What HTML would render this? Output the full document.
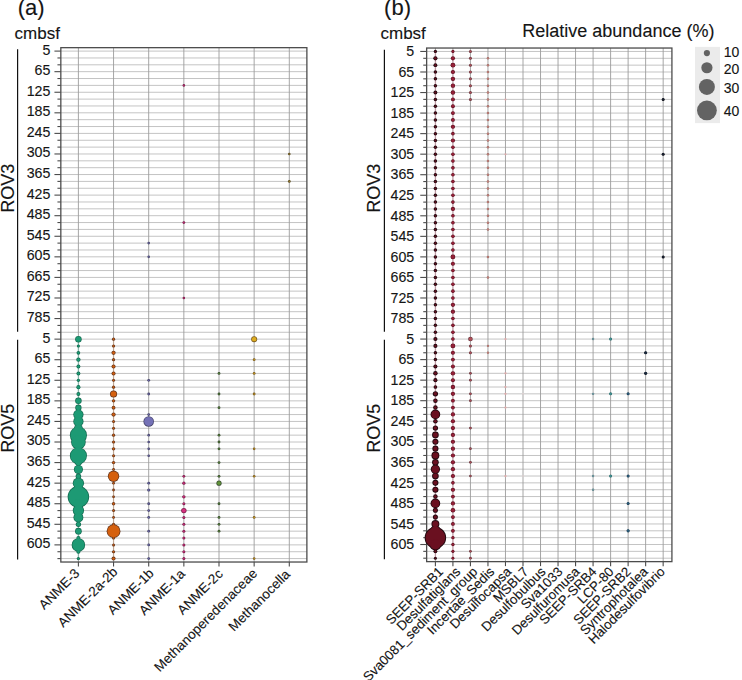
<!DOCTYPE html><html><head><meta charset="utf-8"><style>html,body{margin:0;padding:0;background:#fff;}svg{display:block;}text{font-family:"Liberation Sans",sans-serif;fill:#151515;stroke:#151515;stroke-width:0.12px;}</style></head><body>
<svg width="742" height="680" viewBox="0 0 742 680">
<rect width="742" height="680" fill="#fff"/>
<text x="17.8" y="15" font-size="22">(a)</text>
<text x="384.1" y="15" font-size="22">(b)</text>
<text x="14.6" y="38.6" font-size="17">cmbsf</text>
<text x="380.5" y="38.6" font-size="17">cmbsf</text>
<text x="522.3" y="36.8" font-size="18">Relative abundance (%)</text>
<line x1="60.83" y1="51.10" x2="306.88" y2="51.10" stroke="#c4c4c4" stroke-width="1"/>
<line x1="60.83" y1="57.96" x2="306.88" y2="57.96" stroke="#c4c4c4" stroke-width="1"/>
<line x1="60.83" y1="64.82" x2="306.88" y2="64.82" stroke="#c4c4c4" stroke-width="1"/>
<line x1="60.83" y1="71.67" x2="306.88" y2="71.67" stroke="#c4c4c4" stroke-width="1"/>
<line x1="60.83" y1="78.53" x2="306.88" y2="78.53" stroke="#c4c4c4" stroke-width="1"/>
<line x1="60.83" y1="85.39" x2="306.88" y2="85.39" stroke="#c4c4c4" stroke-width="1"/>
<line x1="60.83" y1="92.25" x2="306.88" y2="92.25" stroke="#c4c4c4" stroke-width="1"/>
<line x1="60.83" y1="99.11" x2="306.88" y2="99.11" stroke="#c4c4c4" stroke-width="1"/>
<line x1="60.83" y1="105.96" x2="306.88" y2="105.96" stroke="#c4c4c4" stroke-width="1"/>
<line x1="60.83" y1="112.82" x2="306.88" y2="112.82" stroke="#c4c4c4" stroke-width="1"/>
<line x1="60.83" y1="119.68" x2="306.88" y2="119.68" stroke="#c4c4c4" stroke-width="1"/>
<line x1="60.83" y1="126.54" x2="306.88" y2="126.54" stroke="#c4c4c4" stroke-width="1"/>
<line x1="60.83" y1="133.40" x2="306.88" y2="133.40" stroke="#c4c4c4" stroke-width="1"/>
<line x1="60.83" y1="140.25" x2="306.88" y2="140.25" stroke="#c4c4c4" stroke-width="1"/>
<line x1="60.83" y1="147.11" x2="306.88" y2="147.11" stroke="#c4c4c4" stroke-width="1"/>
<line x1="60.83" y1="153.97" x2="306.88" y2="153.97" stroke="#c4c4c4" stroke-width="1"/>
<line x1="60.83" y1="160.83" x2="306.88" y2="160.83" stroke="#c4c4c4" stroke-width="1"/>
<line x1="60.83" y1="167.69" x2="306.88" y2="167.69" stroke="#c4c4c4" stroke-width="1"/>
<line x1="60.83" y1="174.54" x2="306.88" y2="174.54" stroke="#c4c4c4" stroke-width="1"/>
<line x1="60.83" y1="181.40" x2="306.88" y2="181.40" stroke="#c4c4c4" stroke-width="1"/>
<line x1="60.83" y1="188.26" x2="306.88" y2="188.26" stroke="#c4c4c4" stroke-width="1"/>
<line x1="60.83" y1="195.12" x2="306.88" y2="195.12" stroke="#c4c4c4" stroke-width="1"/>
<line x1="60.83" y1="201.98" x2="306.88" y2="201.98" stroke="#c4c4c4" stroke-width="1"/>
<line x1="60.83" y1="208.83" x2="306.88" y2="208.83" stroke="#c4c4c4" stroke-width="1"/>
<line x1="60.83" y1="215.69" x2="306.88" y2="215.69" stroke="#c4c4c4" stroke-width="1"/>
<line x1="60.83" y1="222.55" x2="306.88" y2="222.55" stroke="#c4c4c4" stroke-width="1"/>
<line x1="60.83" y1="229.41" x2="306.88" y2="229.41" stroke="#c4c4c4" stroke-width="1"/>
<line x1="60.83" y1="236.27" x2="306.88" y2="236.27" stroke="#c4c4c4" stroke-width="1"/>
<line x1="60.83" y1="243.12" x2="306.88" y2="243.12" stroke="#c4c4c4" stroke-width="1"/>
<line x1="60.83" y1="249.98" x2="306.88" y2="249.98" stroke="#c4c4c4" stroke-width="1"/>
<line x1="60.83" y1="256.84" x2="306.88" y2="256.84" stroke="#c4c4c4" stroke-width="1"/>
<line x1="60.83" y1="263.70" x2="306.88" y2="263.70" stroke="#c4c4c4" stroke-width="1"/>
<line x1="60.83" y1="270.56" x2="306.88" y2="270.56" stroke="#c4c4c4" stroke-width="1"/>
<line x1="60.83" y1="277.41" x2="306.88" y2="277.41" stroke="#c4c4c4" stroke-width="1"/>
<line x1="60.83" y1="284.27" x2="306.88" y2="284.27" stroke="#c4c4c4" stroke-width="1"/>
<line x1="60.83" y1="291.13" x2="306.88" y2="291.13" stroke="#c4c4c4" stroke-width="1"/>
<line x1="60.83" y1="297.99" x2="306.88" y2="297.99" stroke="#c4c4c4" stroke-width="1"/>
<line x1="60.83" y1="304.85" x2="306.88" y2="304.85" stroke="#c4c4c4" stroke-width="1"/>
<line x1="60.83" y1="311.70" x2="306.88" y2="311.70" stroke="#c4c4c4" stroke-width="1"/>
<line x1="60.83" y1="318.56" x2="306.88" y2="318.56" stroke="#c4c4c4" stroke-width="1"/>
<line x1="60.83" y1="325.42" x2="306.88" y2="325.42" stroke="#c4c4c4" stroke-width="1"/>
<line x1="60.83" y1="332.28" x2="306.88" y2="332.28" stroke="#c4c4c4" stroke-width="1"/>
<line x1="60.83" y1="339.14" x2="306.88" y2="339.14" stroke="#c4c4c4" stroke-width="1"/>
<line x1="60.83" y1="345.99" x2="306.88" y2="345.99" stroke="#c4c4c4" stroke-width="1"/>
<line x1="60.83" y1="352.85" x2="306.88" y2="352.85" stroke="#c4c4c4" stroke-width="1"/>
<line x1="60.83" y1="359.71" x2="306.88" y2="359.71" stroke="#c4c4c4" stroke-width="1"/>
<line x1="60.83" y1="366.57" x2="306.88" y2="366.57" stroke="#c4c4c4" stroke-width="1"/>
<line x1="60.83" y1="373.43" x2="306.88" y2="373.43" stroke="#c4c4c4" stroke-width="1"/>
<line x1="60.83" y1="380.28" x2="306.88" y2="380.28" stroke="#c4c4c4" stroke-width="1"/>
<line x1="60.83" y1="387.14" x2="306.88" y2="387.14" stroke="#c4c4c4" stroke-width="1"/>
<line x1="60.83" y1="394.00" x2="306.88" y2="394.00" stroke="#c4c4c4" stroke-width="1"/>
<line x1="60.83" y1="400.86" x2="306.88" y2="400.86" stroke="#c4c4c4" stroke-width="1"/>
<line x1="60.83" y1="407.72" x2="306.88" y2="407.72" stroke="#c4c4c4" stroke-width="1"/>
<line x1="60.83" y1="414.57" x2="306.88" y2="414.57" stroke="#c4c4c4" stroke-width="1"/>
<line x1="60.83" y1="421.43" x2="306.88" y2="421.43" stroke="#c4c4c4" stroke-width="1"/>
<line x1="60.83" y1="428.29" x2="306.88" y2="428.29" stroke="#c4c4c4" stroke-width="1"/>
<line x1="60.83" y1="435.15" x2="306.88" y2="435.15" stroke="#c4c4c4" stroke-width="1"/>
<line x1="60.83" y1="442.01" x2="306.88" y2="442.01" stroke="#c4c4c4" stroke-width="1"/>
<line x1="60.83" y1="448.86" x2="306.88" y2="448.86" stroke="#c4c4c4" stroke-width="1"/>
<line x1="60.83" y1="455.72" x2="306.88" y2="455.72" stroke="#c4c4c4" stroke-width="1"/>
<line x1="60.83" y1="462.58" x2="306.88" y2="462.58" stroke="#c4c4c4" stroke-width="1"/>
<line x1="60.83" y1="469.44" x2="306.88" y2="469.44" stroke="#c4c4c4" stroke-width="1"/>
<line x1="60.83" y1="476.30" x2="306.88" y2="476.30" stroke="#c4c4c4" stroke-width="1"/>
<line x1="60.83" y1="483.15" x2="306.88" y2="483.15" stroke="#c4c4c4" stroke-width="1"/>
<line x1="60.83" y1="490.01" x2="306.88" y2="490.01" stroke="#c4c4c4" stroke-width="1"/>
<line x1="60.83" y1="496.87" x2="306.88" y2="496.87" stroke="#c4c4c4" stroke-width="1"/>
<line x1="60.83" y1="503.73" x2="306.88" y2="503.73" stroke="#c4c4c4" stroke-width="1"/>
<line x1="60.83" y1="510.59" x2="306.88" y2="510.59" stroke="#c4c4c4" stroke-width="1"/>
<line x1="60.83" y1="517.44" x2="306.88" y2="517.44" stroke="#c4c4c4" stroke-width="1"/>
<line x1="60.83" y1="524.30" x2="306.88" y2="524.30" stroke="#c4c4c4" stroke-width="1"/>
<line x1="60.83" y1="531.16" x2="306.88" y2="531.16" stroke="#c4c4c4" stroke-width="1"/>
<line x1="60.83" y1="538.02" x2="306.88" y2="538.02" stroke="#c4c4c4" stroke-width="1"/>
<line x1="60.83" y1="544.88" x2="306.88" y2="544.88" stroke="#c4c4c4" stroke-width="1"/>
<line x1="60.83" y1="551.73" x2="306.88" y2="551.73" stroke="#c4c4c4" stroke-width="1"/>
<line x1="60.83" y1="558.59" x2="306.88" y2="558.59" stroke="#c4c4c4" stroke-width="1"/>
<line x1="78.40" y1="47.67" x2="78.40" y2="562.02" stroke="#9c9c9c" stroke-width="0.9"/>
<line x1="113.55" y1="47.67" x2="113.55" y2="562.02" stroke="#9c9c9c" stroke-width="0.9"/>
<line x1="148.70" y1="47.67" x2="148.70" y2="562.02" stroke="#9c9c9c" stroke-width="0.9"/>
<line x1="183.85" y1="47.67" x2="183.85" y2="562.02" stroke="#9c9c9c" stroke-width="0.9"/>
<line x1="219.00" y1="47.67" x2="219.00" y2="562.02" stroke="#9c9c9c" stroke-width="0.9"/>
<line x1="254.15" y1="47.67" x2="254.15" y2="562.02" stroke="#9c9c9c" stroke-width="0.9"/>
<line x1="289.30" y1="47.67" x2="289.30" y2="562.02" stroke="#9c9c9c" stroke-width="0.9"/>
<line x1="54.43" y1="51.10" x2="60.83" y2="51.10" stroke="#4c4c4c" stroke-width="1.1"/>
<text x="50.30" y="54.50" text-anchor="end" font-size="14.2">5</text>
<line x1="57.43" y1="57.96" x2="60.83" y2="57.96" stroke="#4c4c4c" stroke-width="1.1"/>
<line x1="57.43" y1="64.82" x2="60.83" y2="64.82" stroke="#4c4c4c" stroke-width="1.1"/>
<line x1="54.43" y1="71.67" x2="60.83" y2="71.67" stroke="#4c4c4c" stroke-width="1.1"/>
<text x="50.30" y="75.07" text-anchor="end" font-size="14.2">65</text>
<line x1="57.43" y1="78.53" x2="60.83" y2="78.53" stroke="#4c4c4c" stroke-width="1.1"/>
<line x1="57.43" y1="85.39" x2="60.83" y2="85.39" stroke="#4c4c4c" stroke-width="1.1"/>
<line x1="54.43" y1="92.25" x2="60.83" y2="92.25" stroke="#4c4c4c" stroke-width="1.1"/>
<text x="50.30" y="95.65" text-anchor="end" font-size="14.2">125</text>
<line x1="57.43" y1="99.11" x2="60.83" y2="99.11" stroke="#4c4c4c" stroke-width="1.1"/>
<line x1="57.43" y1="105.96" x2="60.83" y2="105.96" stroke="#4c4c4c" stroke-width="1.1"/>
<line x1="54.43" y1="112.82" x2="60.83" y2="112.82" stroke="#4c4c4c" stroke-width="1.1"/>
<text x="50.30" y="116.22" text-anchor="end" font-size="14.2">185</text>
<line x1="57.43" y1="119.68" x2="60.83" y2="119.68" stroke="#4c4c4c" stroke-width="1.1"/>
<line x1="57.43" y1="126.54" x2="60.83" y2="126.54" stroke="#4c4c4c" stroke-width="1.1"/>
<line x1="54.43" y1="133.40" x2="60.83" y2="133.40" stroke="#4c4c4c" stroke-width="1.1"/>
<text x="50.30" y="136.80" text-anchor="end" font-size="14.2">245</text>
<line x1="57.43" y1="140.25" x2="60.83" y2="140.25" stroke="#4c4c4c" stroke-width="1.1"/>
<line x1="57.43" y1="147.11" x2="60.83" y2="147.11" stroke="#4c4c4c" stroke-width="1.1"/>
<line x1="54.43" y1="153.97" x2="60.83" y2="153.97" stroke="#4c4c4c" stroke-width="1.1"/>
<text x="50.30" y="157.37" text-anchor="end" font-size="14.2">305</text>
<line x1="57.43" y1="160.83" x2="60.83" y2="160.83" stroke="#4c4c4c" stroke-width="1.1"/>
<line x1="57.43" y1="167.69" x2="60.83" y2="167.69" stroke="#4c4c4c" stroke-width="1.1"/>
<line x1="54.43" y1="174.54" x2="60.83" y2="174.54" stroke="#4c4c4c" stroke-width="1.1"/>
<text x="50.30" y="177.94" text-anchor="end" font-size="14.2">365</text>
<line x1="57.43" y1="181.40" x2="60.83" y2="181.40" stroke="#4c4c4c" stroke-width="1.1"/>
<line x1="57.43" y1="188.26" x2="60.83" y2="188.26" stroke="#4c4c4c" stroke-width="1.1"/>
<line x1="54.43" y1="195.12" x2="60.83" y2="195.12" stroke="#4c4c4c" stroke-width="1.1"/>
<text x="50.30" y="198.52" text-anchor="end" font-size="14.2">425</text>
<line x1="57.43" y1="201.98" x2="60.83" y2="201.98" stroke="#4c4c4c" stroke-width="1.1"/>
<line x1="57.43" y1="208.83" x2="60.83" y2="208.83" stroke="#4c4c4c" stroke-width="1.1"/>
<line x1="54.43" y1="215.69" x2="60.83" y2="215.69" stroke="#4c4c4c" stroke-width="1.1"/>
<text x="50.30" y="219.09" text-anchor="end" font-size="14.2">485</text>
<line x1="57.43" y1="222.55" x2="60.83" y2="222.55" stroke="#4c4c4c" stroke-width="1.1"/>
<line x1="57.43" y1="229.41" x2="60.83" y2="229.41" stroke="#4c4c4c" stroke-width="1.1"/>
<line x1="54.43" y1="236.27" x2="60.83" y2="236.27" stroke="#4c4c4c" stroke-width="1.1"/>
<text x="50.30" y="239.67" text-anchor="end" font-size="14.2">545</text>
<line x1="57.43" y1="243.12" x2="60.83" y2="243.12" stroke="#4c4c4c" stroke-width="1.1"/>
<line x1="57.43" y1="249.98" x2="60.83" y2="249.98" stroke="#4c4c4c" stroke-width="1.1"/>
<line x1="54.43" y1="256.84" x2="60.83" y2="256.84" stroke="#4c4c4c" stroke-width="1.1"/>
<text x="50.30" y="260.24" text-anchor="end" font-size="14.2">605</text>
<line x1="57.43" y1="263.70" x2="60.83" y2="263.70" stroke="#4c4c4c" stroke-width="1.1"/>
<line x1="57.43" y1="270.56" x2="60.83" y2="270.56" stroke="#4c4c4c" stroke-width="1.1"/>
<line x1="54.43" y1="277.41" x2="60.83" y2="277.41" stroke="#4c4c4c" stroke-width="1.1"/>
<text x="50.30" y="280.81" text-anchor="end" font-size="14.2">665</text>
<line x1="57.43" y1="284.27" x2="60.83" y2="284.27" stroke="#4c4c4c" stroke-width="1.1"/>
<line x1="57.43" y1="291.13" x2="60.83" y2="291.13" stroke="#4c4c4c" stroke-width="1.1"/>
<line x1="54.43" y1="297.99" x2="60.83" y2="297.99" stroke="#4c4c4c" stroke-width="1.1"/>
<text x="50.30" y="301.39" text-anchor="end" font-size="14.2">725</text>
<line x1="57.43" y1="304.85" x2="60.83" y2="304.85" stroke="#4c4c4c" stroke-width="1.1"/>
<line x1="57.43" y1="311.70" x2="60.83" y2="311.70" stroke="#4c4c4c" stroke-width="1.1"/>
<line x1="54.43" y1="318.56" x2="60.83" y2="318.56" stroke="#4c4c4c" stroke-width="1.1"/>
<text x="50.30" y="321.96" text-anchor="end" font-size="14.2">785</text>
<line x1="57.43" y1="325.42" x2="60.83" y2="325.42" stroke="#4c4c4c" stroke-width="1.1"/>
<line x1="57.43" y1="332.28" x2="60.83" y2="332.28" stroke="#4c4c4c" stroke-width="1.1"/>
<line x1="54.43" y1="339.14" x2="60.83" y2="339.14" stroke="#4c4c4c" stroke-width="1.1"/>
<text x="50.30" y="342.54" text-anchor="end" font-size="14.2">5</text>
<line x1="57.43" y1="345.99" x2="60.83" y2="345.99" stroke="#4c4c4c" stroke-width="1.1"/>
<line x1="57.43" y1="352.85" x2="60.83" y2="352.85" stroke="#4c4c4c" stroke-width="1.1"/>
<line x1="54.43" y1="359.71" x2="60.83" y2="359.71" stroke="#4c4c4c" stroke-width="1.1"/>
<text x="50.30" y="363.11" text-anchor="end" font-size="14.2">65</text>
<line x1="57.43" y1="366.57" x2="60.83" y2="366.57" stroke="#4c4c4c" stroke-width="1.1"/>
<line x1="57.43" y1="373.43" x2="60.83" y2="373.43" stroke="#4c4c4c" stroke-width="1.1"/>
<line x1="54.43" y1="380.28" x2="60.83" y2="380.28" stroke="#4c4c4c" stroke-width="1.1"/>
<text x="50.30" y="383.68" text-anchor="end" font-size="14.2">125</text>
<line x1="57.43" y1="387.14" x2="60.83" y2="387.14" stroke="#4c4c4c" stroke-width="1.1"/>
<line x1="57.43" y1="394.00" x2="60.83" y2="394.00" stroke="#4c4c4c" stroke-width="1.1"/>
<line x1="54.43" y1="400.86" x2="60.83" y2="400.86" stroke="#4c4c4c" stroke-width="1.1"/>
<text x="50.30" y="404.26" text-anchor="end" font-size="14.2">185</text>
<line x1="57.43" y1="407.72" x2="60.83" y2="407.72" stroke="#4c4c4c" stroke-width="1.1"/>
<line x1="57.43" y1="414.57" x2="60.83" y2="414.57" stroke="#4c4c4c" stroke-width="1.1"/>
<line x1="54.43" y1="421.43" x2="60.83" y2="421.43" stroke="#4c4c4c" stroke-width="1.1"/>
<text x="50.30" y="424.83" text-anchor="end" font-size="14.2">245</text>
<line x1="57.43" y1="428.29" x2="60.83" y2="428.29" stroke="#4c4c4c" stroke-width="1.1"/>
<line x1="57.43" y1="435.15" x2="60.83" y2="435.15" stroke="#4c4c4c" stroke-width="1.1"/>
<line x1="54.43" y1="442.01" x2="60.83" y2="442.01" stroke="#4c4c4c" stroke-width="1.1"/>
<text x="50.30" y="445.41" text-anchor="end" font-size="14.2">305</text>
<line x1="57.43" y1="448.86" x2="60.83" y2="448.86" stroke="#4c4c4c" stroke-width="1.1"/>
<line x1="57.43" y1="455.72" x2="60.83" y2="455.72" stroke="#4c4c4c" stroke-width="1.1"/>
<line x1="54.43" y1="462.58" x2="60.83" y2="462.58" stroke="#4c4c4c" stroke-width="1.1"/>
<text x="50.30" y="465.98" text-anchor="end" font-size="14.2">365</text>
<line x1="57.43" y1="469.44" x2="60.83" y2="469.44" stroke="#4c4c4c" stroke-width="1.1"/>
<line x1="57.43" y1="476.30" x2="60.83" y2="476.30" stroke="#4c4c4c" stroke-width="1.1"/>
<line x1="54.43" y1="483.15" x2="60.83" y2="483.15" stroke="#4c4c4c" stroke-width="1.1"/>
<text x="50.30" y="486.55" text-anchor="end" font-size="14.2">425</text>
<line x1="57.43" y1="490.01" x2="60.83" y2="490.01" stroke="#4c4c4c" stroke-width="1.1"/>
<line x1="57.43" y1="496.87" x2="60.83" y2="496.87" stroke="#4c4c4c" stroke-width="1.1"/>
<line x1="54.43" y1="503.73" x2="60.83" y2="503.73" stroke="#4c4c4c" stroke-width="1.1"/>
<text x="50.30" y="507.13" text-anchor="end" font-size="14.2">485</text>
<line x1="57.43" y1="510.59" x2="60.83" y2="510.59" stroke="#4c4c4c" stroke-width="1.1"/>
<line x1="57.43" y1="517.44" x2="60.83" y2="517.44" stroke="#4c4c4c" stroke-width="1.1"/>
<line x1="54.43" y1="524.30" x2="60.83" y2="524.30" stroke="#4c4c4c" stroke-width="1.1"/>
<text x="50.30" y="527.70" text-anchor="end" font-size="14.2">545</text>
<line x1="57.43" y1="531.16" x2="60.83" y2="531.16" stroke="#4c4c4c" stroke-width="1.1"/>
<line x1="57.43" y1="538.02" x2="60.83" y2="538.02" stroke="#4c4c4c" stroke-width="1.1"/>
<line x1="54.43" y1="544.88" x2="60.83" y2="544.88" stroke="#4c4c4c" stroke-width="1.1"/>
<text x="50.30" y="548.28" text-anchor="end" font-size="14.2">605</text>
<line x1="57.43" y1="551.73" x2="60.83" y2="551.73" stroke="#4c4c4c" stroke-width="1.1"/>
<line x1="57.43" y1="558.59" x2="60.83" y2="558.59" stroke="#4c4c4c" stroke-width="1.1"/>
<line x1="78.40" y1="562.02" x2="78.40" y2="566.52" stroke="#4c4c4c" stroke-width="1.1"/>
<text transform="translate(80.40,574.22) rotate(-45)" text-anchor="end" font-size="13.5">ANME-3</text>
<line x1="113.55" y1="562.02" x2="113.55" y2="566.52" stroke="#4c4c4c" stroke-width="1.1"/>
<text transform="translate(118.35,572.72) rotate(-45)" text-anchor="end" font-size="13.5">ANME-2a-2b</text>
<line x1="148.70" y1="562.02" x2="148.70" y2="566.52" stroke="#4c4c4c" stroke-width="1.1"/>
<text transform="translate(154.50,574.22) rotate(-45)" text-anchor="end" font-size="13.5">ANME-1b</text>
<line x1="183.85" y1="562.02" x2="183.85" y2="566.52" stroke="#4c4c4c" stroke-width="1.1"/>
<text transform="translate(185.85,574.72) rotate(-45)" text-anchor="end" font-size="13.5">ANME-1a</text>
<line x1="219.00" y1="562.02" x2="219.00" y2="566.52" stroke="#4c4c4c" stroke-width="1.1"/>
<text transform="translate(223.70,574.72) rotate(-45)" text-anchor="end" font-size="13.5">ANME-2c</text>
<line x1="254.15" y1="562.02" x2="254.15" y2="566.52" stroke="#4c4c4c" stroke-width="1.1"/>
<text transform="translate(258.05,574.22) rotate(-45)" text-anchor="end" font-size="13.5">Methanoperedenaceae</text>
<line x1="289.30" y1="562.02" x2="289.30" y2="566.52" stroke="#4c4c4c" stroke-width="1.1"/>
<text transform="translate(290.90,575.22) rotate(-45)" text-anchor="end" font-size="13.5">Methanocella</text>
<rect x="60.83" y="47.67" width="246.05" height="514.35" fill="none" stroke="#4c4c4c" stroke-width="1.3"/>
<line x1="17.6" y1="49.30" x2="17.6" y2="331.78" stroke="#111" stroke-width="1.2"/>
<line x1="17.6" y1="339.74" x2="17.6" y2="559.59" stroke="#111" stroke-width="1.2"/>
<text transform="translate(13.80,188.3) rotate(-90)" text-anchor="middle" font-size="18">ROV3</text>
<text transform="translate(13.80,428.2) rotate(-90)" text-anchor="middle" font-size="18">ROV5</text>
<line x1="426.64" y1="51.45" x2="671.92" y2="51.45" stroke="#c4c4c4" stroke-width="1"/>
<line x1="426.64" y1="58.30" x2="671.92" y2="58.30" stroke="#c4c4c4" stroke-width="1"/>
<line x1="426.64" y1="65.15" x2="671.92" y2="65.15" stroke="#c4c4c4" stroke-width="1"/>
<line x1="426.64" y1="71.99" x2="671.92" y2="71.99" stroke="#c4c4c4" stroke-width="1"/>
<line x1="426.64" y1="78.84" x2="671.92" y2="78.84" stroke="#c4c4c4" stroke-width="1"/>
<line x1="426.64" y1="85.69" x2="671.92" y2="85.69" stroke="#c4c4c4" stroke-width="1"/>
<line x1="426.64" y1="92.54" x2="671.92" y2="92.54" stroke="#c4c4c4" stroke-width="1"/>
<line x1="426.64" y1="99.39" x2="671.92" y2="99.39" stroke="#c4c4c4" stroke-width="1"/>
<line x1="426.64" y1="106.23" x2="671.92" y2="106.23" stroke="#c4c4c4" stroke-width="1"/>
<line x1="426.64" y1="113.08" x2="671.92" y2="113.08" stroke="#c4c4c4" stroke-width="1"/>
<line x1="426.64" y1="119.93" x2="671.92" y2="119.93" stroke="#c4c4c4" stroke-width="1"/>
<line x1="426.64" y1="126.78" x2="671.92" y2="126.78" stroke="#c4c4c4" stroke-width="1"/>
<line x1="426.64" y1="133.63" x2="671.92" y2="133.63" stroke="#c4c4c4" stroke-width="1"/>
<line x1="426.64" y1="140.47" x2="671.92" y2="140.47" stroke="#c4c4c4" stroke-width="1"/>
<line x1="426.64" y1="147.32" x2="671.92" y2="147.32" stroke="#c4c4c4" stroke-width="1"/>
<line x1="426.64" y1="154.17" x2="671.92" y2="154.17" stroke="#c4c4c4" stroke-width="1"/>
<line x1="426.64" y1="161.02" x2="671.92" y2="161.02" stroke="#c4c4c4" stroke-width="1"/>
<line x1="426.64" y1="167.87" x2="671.92" y2="167.87" stroke="#c4c4c4" stroke-width="1"/>
<line x1="426.64" y1="174.71" x2="671.92" y2="174.71" stroke="#c4c4c4" stroke-width="1"/>
<line x1="426.64" y1="181.56" x2="671.92" y2="181.56" stroke="#c4c4c4" stroke-width="1"/>
<line x1="426.64" y1="188.41" x2="671.92" y2="188.41" stroke="#c4c4c4" stroke-width="1"/>
<line x1="426.64" y1="195.26" x2="671.92" y2="195.26" stroke="#c4c4c4" stroke-width="1"/>
<line x1="426.64" y1="202.11" x2="671.92" y2="202.11" stroke="#c4c4c4" stroke-width="1"/>
<line x1="426.64" y1="208.95" x2="671.92" y2="208.95" stroke="#c4c4c4" stroke-width="1"/>
<line x1="426.64" y1="215.80" x2="671.92" y2="215.80" stroke="#c4c4c4" stroke-width="1"/>
<line x1="426.64" y1="222.65" x2="671.92" y2="222.65" stroke="#c4c4c4" stroke-width="1"/>
<line x1="426.64" y1="229.50" x2="671.92" y2="229.50" stroke="#c4c4c4" stroke-width="1"/>
<line x1="426.64" y1="236.35" x2="671.92" y2="236.35" stroke="#c4c4c4" stroke-width="1"/>
<line x1="426.64" y1="243.19" x2="671.92" y2="243.19" stroke="#c4c4c4" stroke-width="1"/>
<line x1="426.64" y1="250.04" x2="671.92" y2="250.04" stroke="#c4c4c4" stroke-width="1"/>
<line x1="426.64" y1="256.89" x2="671.92" y2="256.89" stroke="#c4c4c4" stroke-width="1"/>
<line x1="426.64" y1="263.74" x2="671.92" y2="263.74" stroke="#c4c4c4" stroke-width="1"/>
<line x1="426.64" y1="270.59" x2="671.92" y2="270.59" stroke="#c4c4c4" stroke-width="1"/>
<line x1="426.64" y1="277.43" x2="671.92" y2="277.43" stroke="#c4c4c4" stroke-width="1"/>
<line x1="426.64" y1="284.28" x2="671.92" y2="284.28" stroke="#c4c4c4" stroke-width="1"/>
<line x1="426.64" y1="291.13" x2="671.92" y2="291.13" stroke="#c4c4c4" stroke-width="1"/>
<line x1="426.64" y1="297.98" x2="671.92" y2="297.98" stroke="#c4c4c4" stroke-width="1"/>
<line x1="426.64" y1="304.83" x2="671.92" y2="304.83" stroke="#c4c4c4" stroke-width="1"/>
<line x1="426.64" y1="311.67" x2="671.92" y2="311.67" stroke="#c4c4c4" stroke-width="1"/>
<line x1="426.64" y1="318.52" x2="671.92" y2="318.52" stroke="#c4c4c4" stroke-width="1"/>
<line x1="426.64" y1="325.37" x2="671.92" y2="325.37" stroke="#c4c4c4" stroke-width="1"/>
<line x1="426.64" y1="332.22" x2="671.92" y2="332.22" stroke="#c4c4c4" stroke-width="1"/>
<line x1="426.64" y1="339.07" x2="671.92" y2="339.07" stroke="#c4c4c4" stroke-width="1"/>
<line x1="426.64" y1="345.91" x2="671.92" y2="345.91" stroke="#c4c4c4" stroke-width="1"/>
<line x1="426.64" y1="352.76" x2="671.92" y2="352.76" stroke="#c4c4c4" stroke-width="1"/>
<line x1="426.64" y1="359.61" x2="671.92" y2="359.61" stroke="#c4c4c4" stroke-width="1"/>
<line x1="426.64" y1="366.46" x2="671.92" y2="366.46" stroke="#c4c4c4" stroke-width="1"/>
<line x1="426.64" y1="373.31" x2="671.92" y2="373.31" stroke="#c4c4c4" stroke-width="1"/>
<line x1="426.64" y1="380.15" x2="671.92" y2="380.15" stroke="#c4c4c4" stroke-width="1"/>
<line x1="426.64" y1="387.00" x2="671.92" y2="387.00" stroke="#c4c4c4" stroke-width="1"/>
<line x1="426.64" y1="393.85" x2="671.92" y2="393.85" stroke="#c4c4c4" stroke-width="1"/>
<line x1="426.64" y1="400.70" x2="671.92" y2="400.70" stroke="#c4c4c4" stroke-width="1"/>
<line x1="426.64" y1="407.55" x2="671.92" y2="407.55" stroke="#c4c4c4" stroke-width="1"/>
<line x1="426.64" y1="414.39" x2="671.92" y2="414.39" stroke="#c4c4c4" stroke-width="1"/>
<line x1="426.64" y1="421.24" x2="671.92" y2="421.24" stroke="#c4c4c4" stroke-width="1"/>
<line x1="426.64" y1="428.09" x2="671.92" y2="428.09" stroke="#c4c4c4" stroke-width="1"/>
<line x1="426.64" y1="434.94" x2="671.92" y2="434.94" stroke="#c4c4c4" stroke-width="1"/>
<line x1="426.64" y1="441.79" x2="671.92" y2="441.79" stroke="#c4c4c4" stroke-width="1"/>
<line x1="426.64" y1="448.63" x2="671.92" y2="448.63" stroke="#c4c4c4" stroke-width="1"/>
<line x1="426.64" y1="455.48" x2="671.92" y2="455.48" stroke="#c4c4c4" stroke-width="1"/>
<line x1="426.64" y1="462.33" x2="671.92" y2="462.33" stroke="#c4c4c4" stroke-width="1"/>
<line x1="426.64" y1="469.18" x2="671.92" y2="469.18" stroke="#c4c4c4" stroke-width="1"/>
<line x1="426.64" y1="476.03" x2="671.92" y2="476.03" stroke="#c4c4c4" stroke-width="1"/>
<line x1="426.64" y1="482.87" x2="671.92" y2="482.87" stroke="#c4c4c4" stroke-width="1"/>
<line x1="426.64" y1="489.72" x2="671.92" y2="489.72" stroke="#c4c4c4" stroke-width="1"/>
<line x1="426.64" y1="496.57" x2="671.92" y2="496.57" stroke="#c4c4c4" stroke-width="1"/>
<line x1="426.64" y1="503.42" x2="671.92" y2="503.42" stroke="#c4c4c4" stroke-width="1"/>
<line x1="426.64" y1="510.27" x2="671.92" y2="510.27" stroke="#c4c4c4" stroke-width="1"/>
<line x1="426.64" y1="517.11" x2="671.92" y2="517.11" stroke="#c4c4c4" stroke-width="1"/>
<line x1="426.64" y1="523.96" x2="671.92" y2="523.96" stroke="#c4c4c4" stroke-width="1"/>
<line x1="426.64" y1="530.81" x2="671.92" y2="530.81" stroke="#c4c4c4" stroke-width="1"/>
<line x1="426.64" y1="537.66" x2="671.92" y2="537.66" stroke="#c4c4c4" stroke-width="1"/>
<line x1="426.64" y1="544.51" x2="671.92" y2="544.51" stroke="#c4c4c4" stroke-width="1"/>
<line x1="426.64" y1="551.35" x2="671.92" y2="551.35" stroke="#c4c4c4" stroke-width="1"/>
<line x1="426.64" y1="558.20" x2="671.92" y2="558.20" stroke="#c4c4c4" stroke-width="1"/>
<line x1="435.40" y1="48.03" x2="435.40" y2="561.63" stroke="#9c9c9c" stroke-width="0.9"/>
<line x1="452.92" y1="48.03" x2="452.92" y2="561.63" stroke="#9c9c9c" stroke-width="0.9"/>
<line x1="470.44" y1="48.03" x2="470.44" y2="561.63" stroke="#9c9c9c" stroke-width="0.9"/>
<line x1="487.96" y1="48.03" x2="487.96" y2="561.63" stroke="#9c9c9c" stroke-width="0.9"/>
<line x1="505.48" y1="48.03" x2="505.48" y2="561.63" stroke="#9c9c9c" stroke-width="0.9"/>
<line x1="523.00" y1="48.03" x2="523.00" y2="561.63" stroke="#9c9c9c" stroke-width="0.9"/>
<line x1="540.52" y1="48.03" x2="540.52" y2="561.63" stroke="#9c9c9c" stroke-width="0.9"/>
<line x1="558.04" y1="48.03" x2="558.04" y2="561.63" stroke="#9c9c9c" stroke-width="0.9"/>
<line x1="575.56" y1="48.03" x2="575.56" y2="561.63" stroke="#9c9c9c" stroke-width="0.9"/>
<line x1="593.08" y1="48.03" x2="593.08" y2="561.63" stroke="#9c9c9c" stroke-width="0.9"/>
<line x1="610.60" y1="48.03" x2="610.60" y2="561.63" stroke="#9c9c9c" stroke-width="0.9"/>
<line x1="628.12" y1="48.03" x2="628.12" y2="561.63" stroke="#9c9c9c" stroke-width="0.9"/>
<line x1="645.64" y1="48.03" x2="645.64" y2="561.63" stroke="#9c9c9c" stroke-width="0.9"/>
<line x1="663.16" y1="48.03" x2="663.16" y2="561.63" stroke="#9c9c9c" stroke-width="0.9"/>
<line x1="420.24" y1="51.45" x2="426.64" y2="51.45" stroke="#4c4c4c" stroke-width="1.1"/>
<text x="414.20" y="56.15" text-anchor="end" font-size="14.2">5</text>
<line x1="423.24" y1="58.30" x2="426.64" y2="58.30" stroke="#4c4c4c" stroke-width="1.1"/>
<line x1="423.24" y1="65.15" x2="426.64" y2="65.15" stroke="#4c4c4c" stroke-width="1.1"/>
<line x1="420.24" y1="71.99" x2="426.64" y2="71.99" stroke="#4c4c4c" stroke-width="1.1"/>
<text x="414.20" y="76.69" text-anchor="end" font-size="14.2">65</text>
<line x1="423.24" y1="78.84" x2="426.64" y2="78.84" stroke="#4c4c4c" stroke-width="1.1"/>
<line x1="423.24" y1="85.69" x2="426.64" y2="85.69" stroke="#4c4c4c" stroke-width="1.1"/>
<line x1="420.24" y1="92.54" x2="426.64" y2="92.54" stroke="#4c4c4c" stroke-width="1.1"/>
<text x="414.20" y="97.24" text-anchor="end" font-size="14.2">125</text>
<line x1="423.24" y1="99.39" x2="426.64" y2="99.39" stroke="#4c4c4c" stroke-width="1.1"/>
<line x1="423.24" y1="106.23" x2="426.64" y2="106.23" stroke="#4c4c4c" stroke-width="1.1"/>
<line x1="420.24" y1="113.08" x2="426.64" y2="113.08" stroke="#4c4c4c" stroke-width="1.1"/>
<text x="414.20" y="117.78" text-anchor="end" font-size="14.2">185</text>
<line x1="423.24" y1="119.93" x2="426.64" y2="119.93" stroke="#4c4c4c" stroke-width="1.1"/>
<line x1="423.24" y1="126.78" x2="426.64" y2="126.78" stroke="#4c4c4c" stroke-width="1.1"/>
<line x1="420.24" y1="133.63" x2="426.64" y2="133.63" stroke="#4c4c4c" stroke-width="1.1"/>
<text x="414.20" y="138.33" text-anchor="end" font-size="14.2">245</text>
<line x1="423.24" y1="140.47" x2="426.64" y2="140.47" stroke="#4c4c4c" stroke-width="1.1"/>
<line x1="423.24" y1="147.32" x2="426.64" y2="147.32" stroke="#4c4c4c" stroke-width="1.1"/>
<line x1="420.24" y1="154.17" x2="426.64" y2="154.17" stroke="#4c4c4c" stroke-width="1.1"/>
<text x="414.20" y="158.87" text-anchor="end" font-size="14.2">305</text>
<line x1="423.24" y1="161.02" x2="426.64" y2="161.02" stroke="#4c4c4c" stroke-width="1.1"/>
<line x1="423.24" y1="167.87" x2="426.64" y2="167.87" stroke="#4c4c4c" stroke-width="1.1"/>
<line x1="420.24" y1="174.71" x2="426.64" y2="174.71" stroke="#4c4c4c" stroke-width="1.1"/>
<text x="414.20" y="179.41" text-anchor="end" font-size="14.2">365</text>
<line x1="423.24" y1="181.56" x2="426.64" y2="181.56" stroke="#4c4c4c" stroke-width="1.1"/>
<line x1="423.24" y1="188.41" x2="426.64" y2="188.41" stroke="#4c4c4c" stroke-width="1.1"/>
<line x1="420.24" y1="195.26" x2="426.64" y2="195.26" stroke="#4c4c4c" stroke-width="1.1"/>
<text x="414.20" y="199.96" text-anchor="end" font-size="14.2">425</text>
<line x1="423.24" y1="202.11" x2="426.64" y2="202.11" stroke="#4c4c4c" stroke-width="1.1"/>
<line x1="423.24" y1="208.95" x2="426.64" y2="208.95" stroke="#4c4c4c" stroke-width="1.1"/>
<line x1="420.24" y1="215.80" x2="426.64" y2="215.80" stroke="#4c4c4c" stroke-width="1.1"/>
<text x="414.20" y="220.50" text-anchor="end" font-size="14.2">485</text>
<line x1="423.24" y1="222.65" x2="426.64" y2="222.65" stroke="#4c4c4c" stroke-width="1.1"/>
<line x1="423.24" y1="229.50" x2="426.64" y2="229.50" stroke="#4c4c4c" stroke-width="1.1"/>
<line x1="420.24" y1="236.35" x2="426.64" y2="236.35" stroke="#4c4c4c" stroke-width="1.1"/>
<text x="414.20" y="241.05" text-anchor="end" font-size="14.2">545</text>
<line x1="423.24" y1="243.19" x2="426.64" y2="243.19" stroke="#4c4c4c" stroke-width="1.1"/>
<line x1="423.24" y1="250.04" x2="426.64" y2="250.04" stroke="#4c4c4c" stroke-width="1.1"/>
<line x1="420.24" y1="256.89" x2="426.64" y2="256.89" stroke="#4c4c4c" stroke-width="1.1"/>
<text x="414.20" y="261.59" text-anchor="end" font-size="14.2">605</text>
<line x1="423.24" y1="263.74" x2="426.64" y2="263.74" stroke="#4c4c4c" stroke-width="1.1"/>
<line x1="423.24" y1="270.59" x2="426.64" y2="270.59" stroke="#4c4c4c" stroke-width="1.1"/>
<line x1="420.24" y1="277.43" x2="426.64" y2="277.43" stroke="#4c4c4c" stroke-width="1.1"/>
<text x="414.20" y="282.13" text-anchor="end" font-size="14.2">665</text>
<line x1="423.24" y1="284.28" x2="426.64" y2="284.28" stroke="#4c4c4c" stroke-width="1.1"/>
<line x1="423.24" y1="291.13" x2="426.64" y2="291.13" stroke="#4c4c4c" stroke-width="1.1"/>
<line x1="420.24" y1="297.98" x2="426.64" y2="297.98" stroke="#4c4c4c" stroke-width="1.1"/>
<text x="414.20" y="302.68" text-anchor="end" font-size="14.2">725</text>
<line x1="423.24" y1="304.83" x2="426.64" y2="304.83" stroke="#4c4c4c" stroke-width="1.1"/>
<line x1="423.24" y1="311.67" x2="426.64" y2="311.67" stroke="#4c4c4c" stroke-width="1.1"/>
<line x1="420.24" y1="318.52" x2="426.64" y2="318.52" stroke="#4c4c4c" stroke-width="1.1"/>
<text x="414.20" y="323.22" text-anchor="end" font-size="14.2">785</text>
<line x1="423.24" y1="325.37" x2="426.64" y2="325.37" stroke="#4c4c4c" stroke-width="1.1"/>
<line x1="423.24" y1="332.22" x2="426.64" y2="332.22" stroke="#4c4c4c" stroke-width="1.1"/>
<line x1="420.24" y1="339.07" x2="426.64" y2="339.07" stroke="#4c4c4c" stroke-width="1.1"/>
<text x="414.20" y="343.77" text-anchor="end" font-size="14.2">5</text>
<line x1="423.24" y1="345.91" x2="426.64" y2="345.91" stroke="#4c4c4c" stroke-width="1.1"/>
<line x1="423.24" y1="352.76" x2="426.64" y2="352.76" stroke="#4c4c4c" stroke-width="1.1"/>
<line x1="420.24" y1="359.61" x2="426.64" y2="359.61" stroke="#4c4c4c" stroke-width="1.1"/>
<text x="414.20" y="364.31" text-anchor="end" font-size="14.2">65</text>
<line x1="423.24" y1="366.46" x2="426.64" y2="366.46" stroke="#4c4c4c" stroke-width="1.1"/>
<line x1="423.24" y1="373.31" x2="426.64" y2="373.31" stroke="#4c4c4c" stroke-width="1.1"/>
<line x1="420.24" y1="380.15" x2="426.64" y2="380.15" stroke="#4c4c4c" stroke-width="1.1"/>
<text x="414.20" y="384.85" text-anchor="end" font-size="14.2">125</text>
<line x1="423.24" y1="387.00" x2="426.64" y2="387.00" stroke="#4c4c4c" stroke-width="1.1"/>
<line x1="423.24" y1="393.85" x2="426.64" y2="393.85" stroke="#4c4c4c" stroke-width="1.1"/>
<line x1="420.24" y1="400.70" x2="426.64" y2="400.70" stroke="#4c4c4c" stroke-width="1.1"/>
<text x="414.20" y="405.40" text-anchor="end" font-size="14.2">185</text>
<line x1="423.24" y1="407.55" x2="426.64" y2="407.55" stroke="#4c4c4c" stroke-width="1.1"/>
<line x1="423.24" y1="414.39" x2="426.64" y2="414.39" stroke="#4c4c4c" stroke-width="1.1"/>
<line x1="420.24" y1="421.24" x2="426.64" y2="421.24" stroke="#4c4c4c" stroke-width="1.1"/>
<text x="414.20" y="425.94" text-anchor="end" font-size="14.2">245</text>
<line x1="423.24" y1="428.09" x2="426.64" y2="428.09" stroke="#4c4c4c" stroke-width="1.1"/>
<line x1="423.24" y1="434.94" x2="426.64" y2="434.94" stroke="#4c4c4c" stroke-width="1.1"/>
<line x1="420.24" y1="441.79" x2="426.64" y2="441.79" stroke="#4c4c4c" stroke-width="1.1"/>
<text x="414.20" y="446.49" text-anchor="end" font-size="14.2">305</text>
<line x1="423.24" y1="448.63" x2="426.64" y2="448.63" stroke="#4c4c4c" stroke-width="1.1"/>
<line x1="423.24" y1="455.48" x2="426.64" y2="455.48" stroke="#4c4c4c" stroke-width="1.1"/>
<line x1="420.24" y1="462.33" x2="426.64" y2="462.33" stroke="#4c4c4c" stroke-width="1.1"/>
<text x="414.20" y="467.03" text-anchor="end" font-size="14.2">365</text>
<line x1="423.24" y1="469.18" x2="426.64" y2="469.18" stroke="#4c4c4c" stroke-width="1.1"/>
<line x1="423.24" y1="476.03" x2="426.64" y2="476.03" stroke="#4c4c4c" stroke-width="1.1"/>
<line x1="420.24" y1="482.87" x2="426.64" y2="482.87" stroke="#4c4c4c" stroke-width="1.1"/>
<text x="414.20" y="487.57" text-anchor="end" font-size="14.2">425</text>
<line x1="423.24" y1="489.72" x2="426.64" y2="489.72" stroke="#4c4c4c" stroke-width="1.1"/>
<line x1="423.24" y1="496.57" x2="426.64" y2="496.57" stroke="#4c4c4c" stroke-width="1.1"/>
<line x1="420.24" y1="503.42" x2="426.64" y2="503.42" stroke="#4c4c4c" stroke-width="1.1"/>
<text x="414.20" y="508.12" text-anchor="end" font-size="14.2">485</text>
<line x1="423.24" y1="510.27" x2="426.64" y2="510.27" stroke="#4c4c4c" stroke-width="1.1"/>
<line x1="423.24" y1="517.11" x2="426.64" y2="517.11" stroke="#4c4c4c" stroke-width="1.1"/>
<line x1="420.24" y1="523.96" x2="426.64" y2="523.96" stroke="#4c4c4c" stroke-width="1.1"/>
<text x="414.20" y="528.66" text-anchor="end" font-size="14.2">545</text>
<line x1="423.24" y1="530.81" x2="426.64" y2="530.81" stroke="#4c4c4c" stroke-width="1.1"/>
<line x1="423.24" y1="537.66" x2="426.64" y2="537.66" stroke="#4c4c4c" stroke-width="1.1"/>
<line x1="420.24" y1="544.51" x2="426.64" y2="544.51" stroke="#4c4c4c" stroke-width="1.1"/>
<text x="414.20" y="549.21" text-anchor="end" font-size="14.2">605</text>
<line x1="423.24" y1="551.35" x2="426.64" y2="551.35" stroke="#4c4c4c" stroke-width="1.1"/>
<line x1="423.24" y1="558.20" x2="426.64" y2="558.20" stroke="#4c4c4c" stroke-width="1.1"/>
<line x1="435.40" y1="561.63" x2="435.40" y2="566.13" stroke="#4c4c4c" stroke-width="1.1"/>
<text transform="translate(444.10,572.53) rotate(-45)" text-anchor="end" font-size="13.3">SEEP-SRB1</text>
<line x1="452.92" y1="561.63" x2="452.92" y2="566.13" stroke="#4c4c4c" stroke-width="1.1"/>
<text transform="translate(461.15,572.53) rotate(-45)" text-anchor="end" font-size="13.3">Desulfatiglans</text>
<line x1="470.44" y1="561.63" x2="470.44" y2="566.13" stroke="#4c4c4c" stroke-width="1.1"/>
<text transform="translate(478.20,572.53) rotate(-45)" text-anchor="end" font-size="13.3">Sva0081_sediment_group</text>
<line x1="487.96" y1="561.63" x2="487.96" y2="566.13" stroke="#4c4c4c" stroke-width="1.1"/>
<text transform="translate(495.25,572.53) rotate(-45)" text-anchor="end" font-size="13.3">Incertae_Sedis</text>
<line x1="505.48" y1="561.63" x2="505.48" y2="566.13" stroke="#4c4c4c" stroke-width="1.1"/>
<text transform="translate(512.30,572.53) rotate(-45)" text-anchor="end" font-size="13.3">Desulfocapsa</text>
<line x1="523.00" y1="561.63" x2="523.00" y2="566.13" stroke="#4c4c4c" stroke-width="1.1"/>
<text transform="translate(529.35,572.53) rotate(-45)" text-anchor="end" font-size="13.3">MSBL7</text>
<line x1="540.52" y1="561.63" x2="540.52" y2="566.13" stroke="#4c4c4c" stroke-width="1.1"/>
<text transform="translate(546.40,572.53) rotate(-45)" text-anchor="end" font-size="13.3">Desulfobulbus</text>
<line x1="558.04" y1="561.63" x2="558.04" y2="566.13" stroke="#4c4c4c" stroke-width="1.1"/>
<text transform="translate(563.45,572.53) rotate(-45)" text-anchor="end" font-size="13.3">Sva1033</text>
<line x1="575.56" y1="561.63" x2="575.56" y2="566.13" stroke="#4c4c4c" stroke-width="1.1"/>
<text transform="translate(580.50,572.53) rotate(-45)" text-anchor="end" font-size="13.3">Desulfuromusa</text>
<line x1="593.08" y1="561.63" x2="593.08" y2="566.13" stroke="#4c4c4c" stroke-width="1.1"/>
<text transform="translate(597.55,572.53) rotate(-45)" text-anchor="end" font-size="13.3">SEEP-SRB4</text>
<line x1="610.60" y1="561.63" x2="610.60" y2="566.13" stroke="#4c4c4c" stroke-width="1.1"/>
<text transform="translate(614.60,572.53) rotate(-45)" text-anchor="end" font-size="13.3">LCP-80</text>
<line x1="628.12" y1="561.63" x2="628.12" y2="566.13" stroke="#4c4c4c" stroke-width="1.1"/>
<text transform="translate(631.65,572.53) rotate(-45)" text-anchor="end" font-size="13.3">SEEP-SRB2</text>
<line x1="645.64" y1="561.63" x2="645.64" y2="566.13" stroke="#4c4c4c" stroke-width="1.1"/>
<text transform="translate(648.70,572.53) rotate(-45)" text-anchor="end" font-size="13.3">Syntrophotalea</text>
<line x1="663.16" y1="561.63" x2="663.16" y2="566.13" stroke="#4c4c4c" stroke-width="1.1"/>
<text transform="translate(665.75,572.53) rotate(-45)" text-anchor="end" font-size="13.3">Halodesulfovibrio</text>
<rect x="426.64" y="48.03" width="245.28" height="513.60" fill="none" stroke="#4c4c4c" stroke-width="1.3"/>
<line x1="384.4" y1="49.65" x2="384.4" y2="331.72" stroke="#111" stroke-width="1.2"/>
<line x1="384.4" y1="339.67" x2="384.4" y2="559.20" stroke="#111" stroke-width="1.2"/>
<text transform="translate(380.00,188.3) rotate(-90)" text-anchor="middle" font-size="18">ROV3</text>
<text transform="translate(380.00,428.2) rotate(-90)" text-anchor="middle" font-size="18">ROV5</text>
<line x1="78.40" y1="339.14" x2="78.40" y2="558.59" stroke="#40c0a0" stroke-width="1.4" stroke-opacity="0.35"/>
<circle cx="78.40" cy="339.14" r="3.25" fill="#146a50"/>
<circle cx="78.40" cy="345.99" r="1.55" fill="#146a50"/>
<circle cx="78.40" cy="352.85" r="1.85" fill="#146a50"/>
<circle cx="78.40" cy="359.71" r="2.15" fill="#146a50"/>
<circle cx="78.40" cy="366.57" r="1.95" fill="#146a50"/>
<circle cx="78.40" cy="373.43" r="1.95" fill="#146a50"/>
<circle cx="78.40" cy="380.28" r="1.65" fill="#146a50"/>
<circle cx="78.40" cy="387.14" r="2.05" fill="#146a50"/>
<circle cx="78.40" cy="394.00" r="1.95" fill="#146a50"/>
<circle cx="78.40" cy="400.86" r="3.25" fill="#146a50"/>
<circle cx="78.40" cy="407.72" r="3.15" fill="#146a50"/>
<circle cx="78.40" cy="414.57" r="5.15" fill="#146a50"/>
<circle cx="78.40" cy="421.43" r="5.15" fill="#146a50"/>
<circle cx="78.40" cy="428.29" r="4.35" fill="#146a50"/>
<circle cx="78.40" cy="435.15" r="8.55" fill="#146a50"/>
<circle cx="78.40" cy="442.01" r="7.35" fill="#146a50"/>
<circle cx="78.40" cy="448.86" r="3.35" fill="#146a50"/>
<circle cx="78.40" cy="455.72" r="8.55" fill="#146a50"/>
<circle cx="78.40" cy="462.58" r="3.35" fill="#146a50"/>
<circle cx="78.40" cy="469.44" r="4.55" fill="#146a50"/>
<circle cx="78.40" cy="476.30" r="2.75" fill="#146a50"/>
<circle cx="78.40" cy="483.15" r="5.65" fill="#146a50"/>
<circle cx="78.40" cy="490.01" r="5.35" fill="#146a50"/>
<circle cx="78.40" cy="496.87" r="10.75" fill="#146a50"/>
<circle cx="78.40" cy="503.73" r="5.35" fill="#146a50"/>
<circle cx="78.40" cy="510.59" r="5.65" fill="#146a50"/>
<circle cx="78.40" cy="517.44" r="4.95" fill="#146a50"/>
<circle cx="78.40" cy="524.30" r="2.65" fill="#146a50"/>
<circle cx="78.40" cy="531.16" r="3.35" fill="#146a50"/>
<circle cx="78.40" cy="538.02" r="2.05" fill="#146a50"/>
<circle cx="78.40" cy="544.88" r="6.75" fill="#146a50"/>
<circle cx="78.40" cy="551.73" r="2.05" fill="#146a50"/>
<circle cx="78.40" cy="558.59" r="1.65" fill="#146a50"/>
<circle cx="78.40" cy="339.14" r="2.55" fill="#1d9a74"/>
<circle cx="78.40" cy="345.99" r="0.85" fill="#1d9a74"/>
<circle cx="78.40" cy="352.85" r="1.15" fill="#1d9a74"/>
<circle cx="78.40" cy="359.71" r="1.45" fill="#1d9a74"/>
<circle cx="78.40" cy="366.57" r="1.25" fill="#1d9a74"/>
<circle cx="78.40" cy="373.43" r="1.25" fill="#1d9a74"/>
<circle cx="78.40" cy="380.28" r="0.95" fill="#1d9a74"/>
<circle cx="78.40" cy="387.14" r="1.35" fill="#1d9a74"/>
<circle cx="78.40" cy="394.00" r="1.25" fill="#1d9a74"/>
<circle cx="78.40" cy="400.86" r="2.55" fill="#1d9a74"/>
<circle cx="78.40" cy="407.72" r="2.45" fill="#1d9a74"/>
<circle cx="78.40" cy="414.57" r="4.45" fill="#1d9a74"/>
<circle cx="78.40" cy="421.43" r="4.45" fill="#1d9a74"/>
<circle cx="78.40" cy="428.29" r="3.65" fill="#1d9a74"/>
<circle cx="78.40" cy="435.15" r="7.85" fill="#1d9a74"/>
<circle cx="78.40" cy="442.01" r="6.65" fill="#1d9a74"/>
<circle cx="78.40" cy="448.86" r="2.65" fill="#1d9a74"/>
<circle cx="78.40" cy="455.72" r="7.85" fill="#1d9a74"/>
<circle cx="78.40" cy="462.58" r="2.65" fill="#1d9a74"/>
<circle cx="78.40" cy="469.44" r="3.85" fill="#1d9a74"/>
<circle cx="78.40" cy="476.30" r="2.05" fill="#1d9a74"/>
<circle cx="78.40" cy="483.15" r="4.95" fill="#1d9a74"/>
<circle cx="78.40" cy="490.01" r="4.65" fill="#1d9a74"/>
<circle cx="78.40" cy="496.87" r="10.05" fill="#1d9a74"/>
<circle cx="78.40" cy="503.73" r="4.65" fill="#1d9a74"/>
<circle cx="78.40" cy="510.59" r="4.95" fill="#1d9a74"/>
<circle cx="78.40" cy="517.44" r="4.25" fill="#1d9a74"/>
<circle cx="78.40" cy="524.30" r="1.95" fill="#1d9a74"/>
<circle cx="78.40" cy="531.16" r="2.65" fill="#1d9a74"/>
<circle cx="78.40" cy="538.02" r="1.35" fill="#1d9a74"/>
<circle cx="78.40" cy="544.88" r="6.05" fill="#1d9a74"/>
<circle cx="78.40" cy="551.73" r="1.35" fill="#1d9a74"/>
<circle cx="78.40" cy="558.59" r="0.95" fill="#1d9a74"/>
<line x1="113.55" y1="339.14" x2="113.55" y2="558.59" stroke="#f0a060" stroke-width="1.4" stroke-opacity="0.3"/>
<circle cx="113.55" cy="339.14" r="1.60" fill="#6a3a20"/>
<circle cx="113.55" cy="345.99" r="1.60" fill="#6a3a20"/>
<circle cx="113.55" cy="352.85" r="2.10" fill="#6a3a20"/>
<circle cx="113.55" cy="359.71" r="1.60" fill="#6a3a20"/>
<circle cx="113.55" cy="366.57" r="2.00" fill="#6a3a20"/>
<circle cx="113.55" cy="373.43" r="2.00" fill="#6a3a20"/>
<circle cx="113.55" cy="380.28" r="1.50" fill="#6a3a20"/>
<circle cx="113.55" cy="387.14" r="1.60" fill="#6a3a20"/>
<circle cx="113.55" cy="394.00" r="3.60" fill="#6a3a20"/>
<circle cx="113.55" cy="400.86" r="1.70" fill="#6a3a20"/>
<circle cx="113.55" cy="407.72" r="1.90" fill="#6a3a20"/>
<circle cx="113.55" cy="414.57" r="2.10" fill="#6a3a20"/>
<circle cx="113.55" cy="421.43" r="1.50" fill="#6a3a20"/>
<circle cx="113.55" cy="428.29" r="1.50" fill="#6a3a20"/>
<circle cx="113.55" cy="435.15" r="1.60" fill="#6a3a20"/>
<circle cx="113.55" cy="442.01" r="1.60" fill="#6a3a20"/>
<circle cx="113.55" cy="448.86" r="1.70" fill="#6a3a20"/>
<circle cx="113.55" cy="455.72" r="1.50" fill="#6a3a20"/>
<circle cx="113.55" cy="462.58" r="1.70" fill="#6a3a20"/>
<circle cx="113.55" cy="469.44" r="1.40" fill="#6a3a20"/>
<circle cx="113.55" cy="476.30" r="5.70" fill="#6a3a20"/>
<circle cx="113.55" cy="483.15" r="1.40" fill="#6a3a20"/>
<circle cx="113.55" cy="490.01" r="1.40" fill="#6a3a20"/>
<circle cx="113.55" cy="496.87" r="1.40" fill="#6a3a20"/>
<circle cx="113.55" cy="503.73" r="1.70" fill="#6a3a20"/>
<circle cx="113.55" cy="510.59" r="1.50" fill="#6a3a20"/>
<circle cx="113.55" cy="517.44" r="1.40" fill="#6a3a20"/>
<circle cx="113.55" cy="524.30" r="1.60" fill="#6a3a20"/>
<circle cx="113.55" cy="531.16" r="6.90" fill="#6a3a20"/>
<circle cx="113.55" cy="538.02" r="1.60" fill="#6a3a20"/>
<circle cx="113.55" cy="544.88" r="1.50" fill="#6a3a20"/>
<circle cx="113.55" cy="551.73" r="1.60" fill="#6a3a20"/>
<circle cx="113.55" cy="558.59" r="2.00" fill="#6a3a20"/>
<circle cx="113.55" cy="339.14" r="0.80" fill="#d5600e"/>
<circle cx="113.55" cy="345.99" r="0.80" fill="#d5600e"/>
<circle cx="113.55" cy="352.85" r="1.30" fill="#d5600e"/>
<circle cx="113.55" cy="359.71" r="0.80" fill="#d5600e"/>
<circle cx="113.55" cy="366.57" r="1.20" fill="#d5600e"/>
<circle cx="113.55" cy="373.43" r="1.20" fill="#d5600e"/>
<circle cx="113.55" cy="380.28" r="0.70" fill="#d5600e"/>
<circle cx="113.55" cy="387.14" r="0.80" fill="#d5600e"/>
<circle cx="113.55" cy="394.00" r="2.80" fill="#d5600e"/>
<circle cx="113.55" cy="400.86" r="0.90" fill="#d5600e"/>
<circle cx="113.55" cy="407.72" r="1.10" fill="#d5600e"/>
<circle cx="113.55" cy="414.57" r="1.30" fill="#d5600e"/>
<circle cx="113.55" cy="421.43" r="0.70" fill="#d5600e"/>
<circle cx="113.55" cy="428.29" r="0.70" fill="#d5600e"/>
<circle cx="113.55" cy="435.15" r="0.80" fill="#d5600e"/>
<circle cx="113.55" cy="442.01" r="0.80" fill="#d5600e"/>
<circle cx="113.55" cy="448.86" r="0.90" fill="#d5600e"/>
<circle cx="113.55" cy="455.72" r="0.70" fill="#d5600e"/>
<circle cx="113.55" cy="462.58" r="0.90" fill="#d5600e"/>
<circle cx="113.55" cy="469.44" r="0.60" fill="#d5600e"/>
<circle cx="113.55" cy="476.30" r="4.90" fill="#d5600e"/>
<circle cx="113.55" cy="483.15" r="0.60" fill="#d5600e"/>
<circle cx="113.55" cy="490.01" r="0.60" fill="#d5600e"/>
<circle cx="113.55" cy="496.87" r="0.60" fill="#d5600e"/>
<circle cx="113.55" cy="503.73" r="0.90" fill="#d5600e"/>
<circle cx="113.55" cy="510.59" r="0.70" fill="#d5600e"/>
<circle cx="113.55" cy="517.44" r="0.60" fill="#d5600e"/>
<circle cx="113.55" cy="524.30" r="0.80" fill="#d5600e"/>
<circle cx="113.55" cy="531.16" r="6.10" fill="#d5600e"/>
<circle cx="113.55" cy="538.02" r="0.80" fill="#d5600e"/>
<circle cx="113.55" cy="544.88" r="0.70" fill="#d5600e"/>
<circle cx="113.55" cy="551.73" r="0.80" fill="#d5600e"/>
<circle cx="113.55" cy="558.59" r="1.20" fill="#d5600e"/>
<circle cx="148.70" cy="243.12" r="1.30" fill="#4a4870"/>
<circle cx="148.70" cy="256.84" r="1.30" fill="#4a4870"/>
<circle cx="148.70" cy="380.28" r="1.40" fill="#4a4870"/>
<circle cx="148.70" cy="394.00" r="1.40" fill="#4a4870"/>
<circle cx="148.70" cy="414.57" r="1.40" fill="#4a4870"/>
<circle cx="148.70" cy="421.43" r="5.30" fill="#4a4870"/>
<circle cx="148.70" cy="435.15" r="1.30" fill="#4a4870"/>
<circle cx="148.70" cy="442.01" r="1.30" fill="#4a4870"/>
<circle cx="148.70" cy="448.86" r="1.30" fill="#4a4870"/>
<circle cx="148.70" cy="455.72" r="1.30" fill="#4a4870"/>
<circle cx="148.70" cy="483.15" r="1.40" fill="#4a4870"/>
<circle cx="148.70" cy="490.01" r="1.60" fill="#4a4870"/>
<circle cx="148.70" cy="503.73" r="1.40" fill="#4a4870"/>
<circle cx="148.70" cy="510.59" r="1.40" fill="#4a4870"/>
<circle cx="148.70" cy="517.44" r="1.40" fill="#4a4870"/>
<circle cx="148.70" cy="531.16" r="1.40" fill="#4a4870"/>
<circle cx="148.70" cy="544.88" r="1.40" fill="#4a4870"/>
<circle cx="148.70" cy="558.59" r="1.40" fill="#4a4870"/>
<circle cx="148.70" cy="243.12" r="0.50" fill="#7471b6"/>
<circle cx="148.70" cy="256.84" r="0.50" fill="#7471b6"/>
<circle cx="148.70" cy="380.28" r="0.60" fill="#7471b6"/>
<circle cx="148.70" cy="394.00" r="0.60" fill="#7471b6"/>
<circle cx="148.70" cy="414.57" r="0.60" fill="#7471b6"/>
<circle cx="148.70" cy="421.43" r="4.50" fill="#7471b6"/>
<circle cx="148.70" cy="435.15" r="0.50" fill="#7471b6"/>
<circle cx="148.70" cy="442.01" r="0.50" fill="#7471b6"/>
<circle cx="148.70" cy="448.86" r="0.50" fill="#7471b6"/>
<circle cx="148.70" cy="455.72" r="0.50" fill="#7471b6"/>
<circle cx="148.70" cy="483.15" r="0.60" fill="#7471b6"/>
<circle cx="148.70" cy="490.01" r="0.80" fill="#7471b6"/>
<circle cx="148.70" cy="503.73" r="0.60" fill="#7471b6"/>
<circle cx="148.70" cy="510.59" r="0.60" fill="#7471b6"/>
<circle cx="148.70" cy="517.44" r="0.60" fill="#7471b6"/>
<circle cx="148.70" cy="531.16" r="0.60" fill="#7471b6"/>
<circle cx="148.70" cy="544.88" r="0.60" fill="#7471b6"/>
<circle cx="148.70" cy="558.59" r="0.60" fill="#7471b6"/>
<circle cx="183.85" cy="85.39" r="1.30" fill="#802050"/>
<circle cx="183.85" cy="222.55" r="1.40" fill="#802050"/>
<circle cx="183.85" cy="297.99" r="1.30" fill="#802050"/>
<circle cx="183.85" cy="476.30" r="1.40" fill="#802050"/>
<circle cx="183.85" cy="483.15" r="1.60" fill="#802050"/>
<circle cx="183.85" cy="496.87" r="1.70" fill="#802050"/>
<circle cx="183.85" cy="503.73" r="1.50" fill="#802050"/>
<circle cx="183.85" cy="510.59" r="2.70" fill="#802050"/>
<circle cx="183.85" cy="517.44" r="1.50" fill="#802050"/>
<circle cx="183.85" cy="524.30" r="1.50" fill="#802050"/>
<circle cx="183.85" cy="531.16" r="1.50" fill="#802050"/>
<circle cx="183.85" cy="538.02" r="1.50" fill="#802050"/>
<circle cx="183.85" cy="544.88" r="1.50" fill="#802050"/>
<circle cx="183.85" cy="551.73" r="1.50" fill="#802050"/>
<circle cx="183.85" cy="558.59" r="1.50" fill="#802050"/>
<circle cx="183.85" cy="85.39" r="0.50" fill="#d8307f"/>
<circle cx="183.85" cy="222.55" r="0.60" fill="#d8307f"/>
<circle cx="183.85" cy="297.99" r="0.50" fill="#d8307f"/>
<circle cx="183.85" cy="476.30" r="0.60" fill="#d8307f"/>
<circle cx="183.85" cy="483.15" r="0.80" fill="#d8307f"/>
<circle cx="183.85" cy="496.87" r="0.90" fill="#d8307f"/>
<circle cx="183.85" cy="503.73" r="0.70" fill="#d8307f"/>
<circle cx="183.85" cy="510.59" r="1.90" fill="#d8307f"/>
<circle cx="183.85" cy="517.44" r="0.70" fill="#d8307f"/>
<circle cx="183.85" cy="524.30" r="0.70" fill="#d8307f"/>
<circle cx="183.85" cy="531.16" r="0.70" fill="#d8307f"/>
<circle cx="183.85" cy="538.02" r="0.70" fill="#d8307f"/>
<circle cx="183.85" cy="544.88" r="0.70" fill="#d8307f"/>
<circle cx="183.85" cy="551.73" r="0.70" fill="#d8307f"/>
<circle cx="183.85" cy="558.59" r="0.70" fill="#d8307f"/>
<circle cx="219.00" cy="373.43" r="1.40" fill="#3a5030"/>
<circle cx="219.00" cy="394.00" r="1.40" fill="#3a5030"/>
<circle cx="219.00" cy="407.72" r="1.40" fill="#3a5030"/>
<circle cx="219.00" cy="435.15" r="1.40" fill="#3a5030"/>
<circle cx="219.00" cy="442.01" r="1.40" fill="#3a5030"/>
<circle cx="219.00" cy="448.86" r="1.40" fill="#3a5030"/>
<circle cx="219.00" cy="462.58" r="1.40" fill="#3a5030"/>
<circle cx="219.00" cy="476.30" r="1.40" fill="#3a5030"/>
<circle cx="219.00" cy="483.15" r="2.60" fill="#3a5030"/>
<circle cx="219.00" cy="503.73" r="1.40" fill="#3a5030"/>
<circle cx="219.00" cy="517.44" r="1.40" fill="#3a5030"/>
<circle cx="219.00" cy="524.30" r="1.40" fill="#3a5030"/>
<circle cx="219.00" cy="531.16" r="1.40" fill="#3a5030"/>
<circle cx="219.00" cy="373.43" r="0.60" fill="#62953a"/>
<circle cx="219.00" cy="394.00" r="0.60" fill="#62953a"/>
<circle cx="219.00" cy="407.72" r="0.60" fill="#62953a"/>
<circle cx="219.00" cy="435.15" r="0.60" fill="#62953a"/>
<circle cx="219.00" cy="442.01" r="0.60" fill="#62953a"/>
<circle cx="219.00" cy="448.86" r="0.60" fill="#62953a"/>
<circle cx="219.00" cy="462.58" r="0.60" fill="#62953a"/>
<circle cx="219.00" cy="476.30" r="0.60" fill="#62953a"/>
<circle cx="219.00" cy="483.15" r="1.80" fill="#62953a"/>
<circle cx="219.00" cy="503.73" r="0.60" fill="#62953a"/>
<circle cx="219.00" cy="517.44" r="0.60" fill="#62953a"/>
<circle cx="219.00" cy="524.30" r="0.60" fill="#62953a"/>
<circle cx="219.00" cy="531.16" r="0.60" fill="#62953a"/>
<circle cx="254.15" cy="339.14" r="3.00" fill="#806020"/>
<circle cx="254.15" cy="359.71" r="1.40" fill="#806020"/>
<circle cx="254.15" cy="373.43" r="1.40" fill="#806020"/>
<circle cx="254.15" cy="394.00" r="1.40" fill="#806020"/>
<circle cx="254.15" cy="448.86" r="1.30" fill="#806020"/>
<circle cx="254.15" cy="476.30" r="1.30" fill="#806020"/>
<circle cx="254.15" cy="517.44" r="1.40" fill="#806020"/>
<circle cx="254.15" cy="558.59" r="1.30" fill="#806020"/>
<circle cx="254.15" cy="339.14" r="2.20" fill="#ddac20"/>
<circle cx="254.15" cy="359.71" r="0.60" fill="#ddac20"/>
<circle cx="254.15" cy="373.43" r="0.60" fill="#ddac20"/>
<circle cx="254.15" cy="394.00" r="0.60" fill="#ddac20"/>
<circle cx="254.15" cy="448.86" r="0.50" fill="#ddac20"/>
<circle cx="254.15" cy="476.30" r="0.50" fill="#ddac20"/>
<circle cx="254.15" cy="517.44" r="0.60" fill="#ddac20"/>
<circle cx="254.15" cy="558.59" r="0.50" fill="#ddac20"/>
<circle cx="289.30" cy="153.97" r="1.30" fill="#605020"/>
<circle cx="289.30" cy="181.40" r="1.40" fill="#605020"/>
<circle cx="289.30" cy="153.97" r="0.50" fill="#a08030"/>
<circle cx="289.30" cy="181.40" r="0.60" fill="#a08030"/>
<line x1="435.40" y1="51.45" x2="435.40" y2="558.20" stroke="#e06080" stroke-width="1.6" stroke-opacity="0.25"/>
<circle cx="435.40" cy="51.45" r="1.65" fill="#220a10"/>
<circle cx="435.40" cy="58.30" r="2.10" fill="#220a10"/>
<circle cx="435.40" cy="65.15" r="1.95" fill="#220a10"/>
<circle cx="435.40" cy="71.99" r="1.75" fill="#220a10"/>
<circle cx="435.40" cy="78.84" r="1.75" fill="#220a10"/>
<circle cx="435.40" cy="85.69" r="1.75" fill="#220a10"/>
<circle cx="435.40" cy="92.54" r="1.95" fill="#220a10"/>
<circle cx="435.40" cy="99.39" r="1.75" fill="#220a10"/>
<circle cx="435.40" cy="106.23" r="1.75" fill="#220a10"/>
<circle cx="435.40" cy="113.08" r="1.75" fill="#220a10"/>
<circle cx="435.40" cy="119.93" r="1.75" fill="#220a10"/>
<circle cx="435.40" cy="126.78" r="1.75" fill="#220a10"/>
<circle cx="435.40" cy="133.63" r="1.75" fill="#220a10"/>
<circle cx="435.40" cy="140.47" r="1.75" fill="#220a10"/>
<circle cx="435.40" cy="147.32" r="1.75" fill="#220a10"/>
<circle cx="435.40" cy="154.17" r="1.75" fill="#220a10"/>
<circle cx="435.40" cy="161.02" r="1.75" fill="#220a10"/>
<circle cx="435.40" cy="167.87" r="1.75" fill="#220a10"/>
<circle cx="435.40" cy="174.71" r="1.75" fill="#220a10"/>
<circle cx="435.40" cy="181.56" r="1.75" fill="#220a10"/>
<circle cx="435.40" cy="188.41" r="1.75" fill="#220a10"/>
<circle cx="435.40" cy="195.26" r="1.75" fill="#220a10"/>
<circle cx="435.40" cy="202.11" r="1.75" fill="#220a10"/>
<circle cx="435.40" cy="208.95" r="1.75" fill="#220a10"/>
<circle cx="435.40" cy="215.80" r="1.75" fill="#220a10"/>
<circle cx="435.40" cy="222.65" r="1.75" fill="#220a10"/>
<circle cx="435.40" cy="229.50" r="1.75" fill="#220a10"/>
<circle cx="435.40" cy="236.35" r="1.75" fill="#220a10"/>
<circle cx="435.40" cy="243.19" r="1.75" fill="#220a10"/>
<circle cx="435.40" cy="250.04" r="1.75" fill="#220a10"/>
<circle cx="435.40" cy="256.89" r="1.75" fill="#220a10"/>
<circle cx="435.40" cy="263.74" r="1.75" fill="#220a10"/>
<circle cx="435.40" cy="270.59" r="1.75" fill="#220a10"/>
<circle cx="435.40" cy="277.43" r="1.75" fill="#220a10"/>
<circle cx="435.40" cy="284.28" r="1.75" fill="#220a10"/>
<circle cx="435.40" cy="291.13" r="1.75" fill="#220a10"/>
<circle cx="435.40" cy="297.98" r="1.75" fill="#220a10"/>
<circle cx="435.40" cy="304.83" r="1.75" fill="#220a10"/>
<circle cx="435.40" cy="311.67" r="1.75" fill="#220a10"/>
<circle cx="435.40" cy="318.52" r="1.75" fill="#220a10"/>
<circle cx="435.40" cy="325.37" r="1.75" fill="#220a10"/>
<circle cx="435.40" cy="332.22" r="1.75" fill="#220a10"/>
<circle cx="435.40" cy="339.07" r="2.05" fill="#220a10"/>
<circle cx="435.40" cy="345.91" r="2.05" fill="#220a10"/>
<circle cx="435.40" cy="352.76" r="1.75" fill="#220a10"/>
<circle cx="435.40" cy="359.61" r="1.75" fill="#220a10"/>
<circle cx="435.40" cy="366.46" r="2.05" fill="#220a10"/>
<circle cx="435.40" cy="373.31" r="2.25" fill="#220a10"/>
<circle cx="435.40" cy="380.15" r="2.05" fill="#220a10"/>
<circle cx="435.40" cy="387.00" r="1.85" fill="#220a10"/>
<circle cx="435.40" cy="393.85" r="2.65" fill="#220a10"/>
<circle cx="435.40" cy="400.70" r="2.25" fill="#220a10"/>
<circle cx="435.40" cy="407.55" r="2.25" fill="#220a10"/>
<circle cx="435.40" cy="414.39" r="4.85" fill="#220a10"/>
<circle cx="435.40" cy="421.24" r="2.25" fill="#220a10"/>
<circle cx="435.40" cy="428.09" r="2.65" fill="#220a10"/>
<circle cx="435.40" cy="434.94" r="3.35" fill="#220a10"/>
<circle cx="435.40" cy="441.79" r="3.05" fill="#220a10"/>
<circle cx="435.40" cy="448.63" r="3.05" fill="#220a10"/>
<circle cx="435.40" cy="455.48" r="3.95" fill="#220a10"/>
<circle cx="435.40" cy="462.33" r="3.35" fill="#220a10"/>
<circle cx="435.40" cy="469.18" r="4.65" fill="#220a10"/>
<circle cx="435.40" cy="476.03" r="3.35" fill="#220a10"/>
<circle cx="435.40" cy="482.87" r="3.05" fill="#220a10"/>
<circle cx="435.40" cy="489.72" r="3.05" fill="#220a10"/>
<circle cx="435.40" cy="496.57" r="2.25" fill="#220a10"/>
<circle cx="435.40" cy="503.42" r="4.85" fill="#220a10"/>
<circle cx="435.40" cy="510.27" r="2.55" fill="#220a10"/>
<circle cx="435.40" cy="517.11" r="2.55" fill="#220a10"/>
<circle cx="435.40" cy="523.96" r="3.95" fill="#220a10"/>
<circle cx="435.40" cy="530.81" r="5.45" fill="#220a10"/>
<circle cx="435.40" cy="537.66" r="10.75" fill="#220a10"/>
<circle cx="435.40" cy="544.51" r="5.95" fill="#220a10"/>
<circle cx="435.40" cy="551.35" r="1.95" fill="#220a10"/>
<circle cx="435.40" cy="558.20" r="1.55" fill="#220a10"/>
<circle cx="435.40" cy="51.45" r="0.75" fill="#6a1020"/>
<circle cx="435.40" cy="58.30" r="1.20" fill="#6a1020"/>
<circle cx="435.40" cy="65.15" r="1.05" fill="#6a1020"/>
<circle cx="435.40" cy="71.99" r="0.85" fill="#6a1020"/>
<circle cx="435.40" cy="78.84" r="0.85" fill="#6a1020"/>
<circle cx="435.40" cy="85.69" r="0.85" fill="#6a1020"/>
<circle cx="435.40" cy="92.54" r="1.05" fill="#6a1020"/>
<circle cx="435.40" cy="99.39" r="0.85" fill="#6a1020"/>
<circle cx="435.40" cy="106.23" r="0.85" fill="#6a1020"/>
<circle cx="435.40" cy="113.08" r="0.85" fill="#6a1020"/>
<circle cx="435.40" cy="119.93" r="0.85" fill="#6a1020"/>
<circle cx="435.40" cy="126.78" r="0.85" fill="#6a1020"/>
<circle cx="435.40" cy="133.63" r="0.85" fill="#6a1020"/>
<circle cx="435.40" cy="140.47" r="0.85" fill="#6a1020"/>
<circle cx="435.40" cy="147.32" r="0.85" fill="#6a1020"/>
<circle cx="435.40" cy="154.17" r="0.85" fill="#6a1020"/>
<circle cx="435.40" cy="161.02" r="0.85" fill="#6a1020"/>
<circle cx="435.40" cy="167.87" r="0.85" fill="#6a1020"/>
<circle cx="435.40" cy="174.71" r="0.85" fill="#6a1020"/>
<circle cx="435.40" cy="181.56" r="0.85" fill="#6a1020"/>
<circle cx="435.40" cy="188.41" r="0.85" fill="#6a1020"/>
<circle cx="435.40" cy="195.26" r="0.85" fill="#6a1020"/>
<circle cx="435.40" cy="202.11" r="0.85" fill="#6a1020"/>
<circle cx="435.40" cy="208.95" r="0.85" fill="#6a1020"/>
<circle cx="435.40" cy="215.80" r="0.85" fill="#6a1020"/>
<circle cx="435.40" cy="222.65" r="0.85" fill="#6a1020"/>
<circle cx="435.40" cy="229.50" r="0.85" fill="#6a1020"/>
<circle cx="435.40" cy="236.35" r="0.85" fill="#6a1020"/>
<circle cx="435.40" cy="243.19" r="0.85" fill="#6a1020"/>
<circle cx="435.40" cy="250.04" r="0.85" fill="#6a1020"/>
<circle cx="435.40" cy="256.89" r="0.85" fill="#6a1020"/>
<circle cx="435.40" cy="263.74" r="0.85" fill="#6a1020"/>
<circle cx="435.40" cy="270.59" r="0.85" fill="#6a1020"/>
<circle cx="435.40" cy="277.43" r="0.85" fill="#6a1020"/>
<circle cx="435.40" cy="284.28" r="0.85" fill="#6a1020"/>
<circle cx="435.40" cy="291.13" r="0.85" fill="#6a1020"/>
<circle cx="435.40" cy="297.98" r="0.85" fill="#6a1020"/>
<circle cx="435.40" cy="304.83" r="0.85" fill="#6a1020"/>
<circle cx="435.40" cy="311.67" r="0.85" fill="#6a1020"/>
<circle cx="435.40" cy="318.52" r="0.85" fill="#6a1020"/>
<circle cx="435.40" cy="325.37" r="0.85" fill="#6a1020"/>
<circle cx="435.40" cy="332.22" r="0.85" fill="#6a1020"/>
<circle cx="435.40" cy="339.07" r="1.15" fill="#6a1020"/>
<circle cx="435.40" cy="345.91" r="1.15" fill="#6a1020"/>
<circle cx="435.40" cy="352.76" r="0.85" fill="#6a1020"/>
<circle cx="435.40" cy="359.61" r="0.85" fill="#6a1020"/>
<circle cx="435.40" cy="366.46" r="1.15" fill="#6a1020"/>
<circle cx="435.40" cy="373.31" r="1.35" fill="#6a1020"/>
<circle cx="435.40" cy="380.15" r="1.15" fill="#6a1020"/>
<circle cx="435.40" cy="387.00" r="0.95" fill="#6a1020"/>
<circle cx="435.40" cy="393.85" r="1.75" fill="#6a1020"/>
<circle cx="435.40" cy="400.70" r="1.35" fill="#6a1020"/>
<circle cx="435.40" cy="407.55" r="1.35" fill="#6a1020"/>
<circle cx="435.40" cy="414.39" r="3.95" fill="#6a1020"/>
<circle cx="435.40" cy="421.24" r="1.35" fill="#6a1020"/>
<circle cx="435.40" cy="428.09" r="1.75" fill="#6a1020"/>
<circle cx="435.40" cy="434.94" r="2.45" fill="#6a1020"/>
<circle cx="435.40" cy="441.79" r="2.15" fill="#6a1020"/>
<circle cx="435.40" cy="448.63" r="2.15" fill="#6a1020"/>
<circle cx="435.40" cy="455.48" r="3.05" fill="#6a1020"/>
<circle cx="435.40" cy="462.33" r="2.45" fill="#6a1020"/>
<circle cx="435.40" cy="469.18" r="3.75" fill="#6a1020"/>
<circle cx="435.40" cy="476.03" r="2.45" fill="#6a1020"/>
<circle cx="435.40" cy="482.87" r="2.15" fill="#6a1020"/>
<circle cx="435.40" cy="489.72" r="2.15" fill="#6a1020"/>
<circle cx="435.40" cy="496.57" r="1.35" fill="#6a1020"/>
<circle cx="435.40" cy="503.42" r="3.95" fill="#6a1020"/>
<circle cx="435.40" cy="510.27" r="1.65" fill="#6a1020"/>
<circle cx="435.40" cy="517.11" r="1.65" fill="#6a1020"/>
<circle cx="435.40" cy="523.96" r="3.05" fill="#6a1020"/>
<circle cx="435.40" cy="530.81" r="4.55" fill="#6a1020"/>
<circle cx="435.40" cy="537.66" r="9.85" fill="#6a1020"/>
<circle cx="435.40" cy="544.51" r="5.05" fill="#6a1020"/>
<circle cx="435.40" cy="551.35" r="1.05" fill="#6a1020"/>
<circle cx="435.40" cy="558.20" r="0.65" fill="#6a1020"/>
<line x1="452.92" y1="51.45" x2="452.92" y2="558.20" stroke="#e06080" stroke-width="1.2" stroke-opacity="0.3"/>
<circle cx="452.92" cy="51.45" r="1.58" fill="#5a1020"/>
<circle cx="452.92" cy="58.30" r="2.08" fill="#5a1020"/>
<circle cx="452.92" cy="65.15" r="2.38" fill="#5a1020"/>
<circle cx="452.92" cy="71.99" r="2.08" fill="#5a1020"/>
<circle cx="452.92" cy="78.84" r="2.17" fill="#5a1020"/>
<circle cx="452.92" cy="85.69" r="2.17" fill="#5a1020"/>
<circle cx="452.92" cy="92.54" r="2.17" fill="#5a1020"/>
<circle cx="452.92" cy="99.39" r="1.92" fill="#5a1020"/>
<circle cx="452.92" cy="106.23" r="1.92" fill="#5a1020"/>
<circle cx="452.92" cy="113.08" r="1.92" fill="#5a1020"/>
<circle cx="452.92" cy="119.93" r="1.92" fill="#5a1020"/>
<circle cx="452.92" cy="126.78" r="2.08" fill="#5a1020"/>
<circle cx="452.92" cy="133.63" r="1.77" fill="#5a1020"/>
<circle cx="452.92" cy="140.47" r="2.08" fill="#5a1020"/>
<circle cx="452.92" cy="147.32" r="1.77" fill="#5a1020"/>
<circle cx="452.92" cy="154.17" r="1.77" fill="#5a1020"/>
<circle cx="452.92" cy="161.02" r="1.77" fill="#5a1020"/>
<circle cx="452.92" cy="167.87" r="1.77" fill="#5a1020"/>
<circle cx="452.92" cy="174.71" r="1.77" fill="#5a1020"/>
<circle cx="452.92" cy="181.56" r="1.77" fill="#5a1020"/>
<circle cx="452.92" cy="188.41" r="1.77" fill="#5a1020"/>
<circle cx="452.92" cy="195.26" r="1.77" fill="#5a1020"/>
<circle cx="452.92" cy="202.11" r="1.77" fill="#5a1020"/>
<circle cx="452.92" cy="208.95" r="2.08" fill="#5a1020"/>
<circle cx="452.92" cy="215.80" r="1.77" fill="#5a1020"/>
<circle cx="452.92" cy="222.65" r="1.77" fill="#5a1020"/>
<circle cx="452.92" cy="229.50" r="1.77" fill="#5a1020"/>
<circle cx="452.92" cy="236.35" r="1.77" fill="#5a1020"/>
<circle cx="452.92" cy="243.19" r="1.77" fill="#5a1020"/>
<circle cx="452.92" cy="250.04" r="1.77" fill="#5a1020"/>
<circle cx="452.92" cy="256.89" r="2.38" fill="#5a1020"/>
<circle cx="452.92" cy="263.74" r="1.98" fill="#5a1020"/>
<circle cx="452.92" cy="270.59" r="1.77" fill="#5a1020"/>
<circle cx="452.92" cy="277.43" r="1.77" fill="#5a1020"/>
<circle cx="452.92" cy="284.28" r="1.77" fill="#5a1020"/>
<circle cx="452.92" cy="291.13" r="1.77" fill="#5a1020"/>
<circle cx="452.92" cy="297.98" r="1.77" fill="#5a1020"/>
<circle cx="452.92" cy="304.83" r="2.08" fill="#5a1020"/>
<circle cx="452.92" cy="311.67" r="2.08" fill="#5a1020"/>
<circle cx="452.92" cy="318.52" r="1.77" fill="#5a1020"/>
<circle cx="452.92" cy="325.37" r="1.77" fill="#5a1020"/>
<circle cx="452.92" cy="332.22" r="1.77" fill="#5a1020"/>
<circle cx="452.92" cy="339.07" r="1.77" fill="#5a1020"/>
<circle cx="452.92" cy="345.91" r="2.38" fill="#5a1020"/>
<circle cx="452.92" cy="352.76" r="1.98" fill="#5a1020"/>
<circle cx="452.92" cy="359.61" r="1.88" fill="#5a1020"/>
<circle cx="452.92" cy="366.46" r="1.98" fill="#5a1020"/>
<circle cx="452.92" cy="373.31" r="2.17" fill="#5a1020"/>
<circle cx="452.92" cy="380.15" r="1.98" fill="#5a1020"/>
<circle cx="452.92" cy="387.00" r="2.17" fill="#5a1020"/>
<circle cx="452.92" cy="393.85" r="2.08" fill="#5a1020"/>
<circle cx="452.92" cy="400.70" r="1.88" fill="#5a1020"/>
<circle cx="452.92" cy="407.55" r="1.88" fill="#5a1020"/>
<circle cx="452.92" cy="414.39" r="2.08" fill="#5a1020"/>
<circle cx="452.92" cy="421.24" r="2.08" fill="#5a1020"/>
<circle cx="452.92" cy="428.09" r="2.08" fill="#5a1020"/>
<circle cx="452.92" cy="434.94" r="2.08" fill="#5a1020"/>
<circle cx="452.92" cy="441.79" r="2.08" fill="#5a1020"/>
<circle cx="452.92" cy="448.63" r="2.08" fill="#5a1020"/>
<circle cx="452.92" cy="455.48" r="2.08" fill="#5a1020"/>
<circle cx="452.92" cy="462.33" r="2.08" fill="#5a1020"/>
<circle cx="452.92" cy="469.18" r="2.08" fill="#5a1020"/>
<circle cx="452.92" cy="476.03" r="2.08" fill="#5a1020"/>
<circle cx="452.92" cy="482.87" r="1.77" fill="#5a1020"/>
<circle cx="452.92" cy="489.72" r="2.08" fill="#5a1020"/>
<circle cx="452.92" cy="496.57" r="1.88" fill="#5a1020"/>
<circle cx="452.92" cy="503.42" r="2.08" fill="#5a1020"/>
<circle cx="452.92" cy="510.27" r="2.27" fill="#5a1020"/>
<circle cx="452.92" cy="517.11" r="1.88" fill="#5a1020"/>
<circle cx="452.92" cy="523.96" r="1.88" fill="#5a1020"/>
<circle cx="452.92" cy="530.81" r="1.88" fill="#5a1020"/>
<circle cx="452.92" cy="537.66" r="1.67" fill="#5a1020"/>
<circle cx="452.92" cy="544.51" r="1.67" fill="#5a1020"/>
<circle cx="452.92" cy="551.35" r="1.58" fill="#5a1020"/>
<circle cx="452.92" cy="558.20" r="1.48" fill="#5a1020"/>
<circle cx="452.92" cy="51.45" r="1.02" fill="#962038"/>
<circle cx="452.92" cy="58.30" r="1.52" fill="#962038"/>
<circle cx="452.92" cy="65.15" r="1.83" fill="#962038"/>
<circle cx="452.92" cy="71.99" r="1.52" fill="#962038"/>
<circle cx="452.92" cy="78.84" r="1.62" fill="#962038"/>
<circle cx="452.92" cy="85.69" r="1.62" fill="#962038"/>
<circle cx="452.92" cy="92.54" r="1.62" fill="#962038"/>
<circle cx="452.92" cy="99.39" r="1.38" fill="#962038"/>
<circle cx="452.92" cy="106.23" r="1.38" fill="#962038"/>
<circle cx="452.92" cy="113.08" r="1.38" fill="#962038"/>
<circle cx="452.92" cy="119.93" r="1.38" fill="#962038"/>
<circle cx="452.92" cy="126.78" r="1.52" fill="#962038"/>
<circle cx="452.92" cy="133.63" r="1.23" fill="#962038"/>
<circle cx="452.92" cy="140.47" r="1.52" fill="#962038"/>
<circle cx="452.92" cy="147.32" r="1.23" fill="#962038"/>
<circle cx="452.92" cy="154.17" r="1.23" fill="#962038"/>
<circle cx="452.92" cy="161.02" r="1.23" fill="#962038"/>
<circle cx="452.92" cy="167.87" r="1.23" fill="#962038"/>
<circle cx="452.92" cy="174.71" r="1.23" fill="#962038"/>
<circle cx="452.92" cy="181.56" r="1.23" fill="#962038"/>
<circle cx="452.92" cy="188.41" r="1.23" fill="#962038"/>
<circle cx="452.92" cy="195.26" r="1.23" fill="#962038"/>
<circle cx="452.92" cy="202.11" r="1.23" fill="#962038"/>
<circle cx="452.92" cy="208.95" r="1.52" fill="#962038"/>
<circle cx="452.92" cy="215.80" r="1.23" fill="#962038"/>
<circle cx="452.92" cy="222.65" r="1.23" fill="#962038"/>
<circle cx="452.92" cy="229.50" r="1.23" fill="#962038"/>
<circle cx="452.92" cy="236.35" r="1.23" fill="#962038"/>
<circle cx="452.92" cy="243.19" r="1.23" fill="#962038"/>
<circle cx="452.92" cy="250.04" r="1.23" fill="#962038"/>
<circle cx="452.92" cy="256.89" r="1.83" fill="#962038"/>
<circle cx="452.92" cy="263.74" r="1.42" fill="#962038"/>
<circle cx="452.92" cy="270.59" r="1.23" fill="#962038"/>
<circle cx="452.92" cy="277.43" r="1.23" fill="#962038"/>
<circle cx="452.92" cy="284.28" r="1.23" fill="#962038"/>
<circle cx="452.92" cy="291.13" r="1.23" fill="#962038"/>
<circle cx="452.92" cy="297.98" r="1.23" fill="#962038"/>
<circle cx="452.92" cy="304.83" r="1.52" fill="#962038"/>
<circle cx="452.92" cy="311.67" r="1.52" fill="#962038"/>
<circle cx="452.92" cy="318.52" r="1.23" fill="#962038"/>
<circle cx="452.92" cy="325.37" r="1.23" fill="#962038"/>
<circle cx="452.92" cy="332.22" r="1.23" fill="#962038"/>
<circle cx="452.92" cy="339.07" r="1.23" fill="#962038"/>
<circle cx="452.92" cy="345.91" r="1.83" fill="#962038"/>
<circle cx="452.92" cy="352.76" r="1.42" fill="#962038"/>
<circle cx="452.92" cy="359.61" r="1.33" fill="#962038"/>
<circle cx="452.92" cy="366.46" r="1.42" fill="#962038"/>
<circle cx="452.92" cy="373.31" r="1.62" fill="#962038"/>
<circle cx="452.92" cy="380.15" r="1.42" fill="#962038"/>
<circle cx="452.92" cy="387.00" r="1.62" fill="#962038"/>
<circle cx="452.92" cy="393.85" r="1.52" fill="#962038"/>
<circle cx="452.92" cy="400.70" r="1.33" fill="#962038"/>
<circle cx="452.92" cy="407.55" r="1.33" fill="#962038"/>
<circle cx="452.92" cy="414.39" r="1.52" fill="#962038"/>
<circle cx="452.92" cy="421.24" r="1.52" fill="#962038"/>
<circle cx="452.92" cy="428.09" r="1.52" fill="#962038"/>
<circle cx="452.92" cy="434.94" r="1.52" fill="#962038"/>
<circle cx="452.92" cy="441.79" r="1.52" fill="#962038"/>
<circle cx="452.92" cy="448.63" r="1.52" fill="#962038"/>
<circle cx="452.92" cy="455.48" r="1.52" fill="#962038"/>
<circle cx="452.92" cy="462.33" r="1.52" fill="#962038"/>
<circle cx="452.92" cy="469.18" r="1.52" fill="#962038"/>
<circle cx="452.92" cy="476.03" r="1.52" fill="#962038"/>
<circle cx="452.92" cy="482.87" r="1.23" fill="#962038"/>
<circle cx="452.92" cy="489.72" r="1.52" fill="#962038"/>
<circle cx="452.92" cy="496.57" r="1.33" fill="#962038"/>
<circle cx="452.92" cy="503.42" r="1.52" fill="#962038"/>
<circle cx="452.92" cy="510.27" r="1.73" fill="#962038"/>
<circle cx="452.92" cy="517.11" r="1.33" fill="#962038"/>
<circle cx="452.92" cy="523.96" r="1.33" fill="#962038"/>
<circle cx="452.92" cy="530.81" r="1.33" fill="#962038"/>
<circle cx="452.92" cy="537.66" r="1.12" fill="#962038"/>
<circle cx="452.92" cy="544.51" r="1.12" fill="#962038"/>
<circle cx="452.92" cy="551.35" r="1.02" fill="#962038"/>
<circle cx="452.92" cy="558.20" r="0.92" fill="#962038"/>
<circle cx="470.44" cy="51.45" r="1.50" fill="#6a3a40"/>
<circle cx="470.44" cy="58.30" r="1.50" fill="#6a3a40"/>
<circle cx="470.44" cy="65.15" r="1.50" fill="#6a3a40"/>
<circle cx="470.44" cy="71.99" r="1.50" fill="#6a3a40"/>
<circle cx="470.44" cy="78.84" r="1.50" fill="#6a3a40"/>
<circle cx="470.44" cy="85.69" r="1.50" fill="#6a3a40"/>
<circle cx="470.44" cy="92.54" r="1.50" fill="#6a3a40"/>
<circle cx="470.44" cy="99.39" r="1.50" fill="#6a3a40"/>
<circle cx="470.44" cy="339.07" r="2.30" fill="#6a3a40"/>
<circle cx="470.44" cy="345.91" r="1.50" fill="#6a3a40"/>
<circle cx="470.44" cy="352.76" r="1.50" fill="#6a3a40"/>
<circle cx="470.44" cy="373.31" r="1.40" fill="#6a3a40"/>
<circle cx="470.44" cy="380.15" r="1.40" fill="#6a3a40"/>
<circle cx="470.44" cy="393.85" r="1.40" fill="#6a3a40"/>
<circle cx="470.44" cy="400.70" r="1.40" fill="#6a3a40"/>
<circle cx="470.44" cy="428.09" r="1.40" fill="#6a3a40"/>
<circle cx="470.44" cy="448.63" r="1.30" fill="#6a3a40"/>
<circle cx="470.44" cy="462.33" r="1.40" fill="#6a3a40"/>
<circle cx="470.44" cy="476.03" r="1.30" fill="#6a3a40"/>
<circle cx="470.44" cy="551.35" r="1.40" fill="#6a3a40"/>
<circle cx="470.44" cy="558.20" r="1.40" fill="#6a3a40"/>
<circle cx="470.44" cy="51.45" r="0.90" fill="#b04e58"/>
<circle cx="470.44" cy="58.30" r="0.90" fill="#b04e58"/>
<circle cx="470.44" cy="65.15" r="0.90" fill="#b04e58"/>
<circle cx="470.44" cy="71.99" r="0.90" fill="#b04e58"/>
<circle cx="470.44" cy="78.84" r="0.90" fill="#b04e58"/>
<circle cx="470.44" cy="85.69" r="0.90" fill="#b04e58"/>
<circle cx="470.44" cy="92.54" r="0.90" fill="#b04e58"/>
<circle cx="470.44" cy="99.39" r="0.90" fill="#b04e58"/>
<circle cx="470.44" cy="339.07" r="1.70" fill="#b04e58"/>
<circle cx="470.44" cy="345.91" r="0.90" fill="#b04e58"/>
<circle cx="470.44" cy="352.76" r="0.90" fill="#b04e58"/>
<circle cx="470.44" cy="373.31" r="0.80" fill="#b04e58"/>
<circle cx="470.44" cy="380.15" r="0.80" fill="#b04e58"/>
<circle cx="470.44" cy="393.85" r="0.80" fill="#b04e58"/>
<circle cx="470.44" cy="400.70" r="0.80" fill="#b04e58"/>
<circle cx="470.44" cy="428.09" r="0.80" fill="#b04e58"/>
<circle cx="470.44" cy="448.63" r="0.70" fill="#b04e58"/>
<circle cx="470.44" cy="462.33" r="0.80" fill="#b04e58"/>
<circle cx="470.44" cy="476.03" r="0.70" fill="#b04e58"/>
<circle cx="470.44" cy="551.35" r="0.80" fill="#b04e58"/>
<circle cx="470.44" cy="558.20" r="0.80" fill="#b04e58"/>
<circle cx="487.96" cy="58.30" r="1.25" fill="#a06a64"/>
<circle cx="487.96" cy="65.15" r="1.25" fill="#a06a64"/>
<circle cx="487.96" cy="71.99" r="1.25" fill="#a06a64"/>
<circle cx="487.96" cy="78.84" r="1.25" fill="#a06a64"/>
<circle cx="487.96" cy="85.69" r="1.25" fill="#a06a64"/>
<circle cx="487.96" cy="92.54" r="1.25" fill="#a06a64"/>
<circle cx="487.96" cy="99.39" r="1.25" fill="#a06a64"/>
<circle cx="487.96" cy="106.23" r="1.25" fill="#a06a64"/>
<circle cx="487.96" cy="113.08" r="1.25" fill="#a06a64"/>
<circle cx="487.96" cy="119.93" r="1.25" fill="#a06a64"/>
<circle cx="487.96" cy="126.78" r="1.25" fill="#a06a64"/>
<circle cx="487.96" cy="133.63" r="1.25" fill="#a06a64"/>
<circle cx="487.96" cy="140.47" r="1.25" fill="#a06a64"/>
<circle cx="487.96" cy="147.32" r="1.25" fill="#a06a64"/>
<circle cx="487.96" cy="154.17" r="1.25" fill="#a06a64"/>
<circle cx="487.96" cy="161.02" r="1.25" fill="#a06a64"/>
<circle cx="487.96" cy="167.87" r="1.25" fill="#a06a64"/>
<circle cx="487.96" cy="174.71" r="1.25" fill="#a06a64"/>
<circle cx="487.96" cy="181.56" r="1.25" fill="#a06a64"/>
<circle cx="487.96" cy="188.41" r="1.25" fill="#a06a64"/>
<circle cx="487.96" cy="195.26" r="1.25" fill="#a06a64"/>
<circle cx="487.96" cy="202.11" r="1.25" fill="#a06a64"/>
<circle cx="487.96" cy="208.95" r="1.25" fill="#a06a64"/>
<circle cx="487.96" cy="215.80" r="1.25" fill="#a06a64"/>
<circle cx="487.96" cy="222.65" r="1.25" fill="#a06a64"/>
<circle cx="487.96" cy="229.50" r="1.25" fill="#a06a64"/>
<circle cx="487.96" cy="256.89" r="1.25" fill="#a06a64"/>
<circle cx="487.96" cy="277.43" r="1.25" fill="#a06a64"/>
<circle cx="487.96" cy="345.91" r="1.15" fill="#a06a64"/>
<circle cx="487.96" cy="352.76" r="1.15" fill="#a06a64"/>
<circle cx="487.96" cy="58.30" r="0.75" fill="#cc8a82"/>
<circle cx="487.96" cy="65.15" r="0.75" fill="#cc8a82"/>
<circle cx="487.96" cy="71.99" r="0.75" fill="#cc8a82"/>
<circle cx="487.96" cy="78.84" r="0.75" fill="#cc8a82"/>
<circle cx="487.96" cy="85.69" r="0.75" fill="#cc8a82"/>
<circle cx="487.96" cy="92.54" r="0.75" fill="#cc8a82"/>
<circle cx="487.96" cy="99.39" r="0.75" fill="#cc8a82"/>
<circle cx="487.96" cy="106.23" r="0.75" fill="#cc8a82"/>
<circle cx="487.96" cy="113.08" r="0.75" fill="#cc8a82"/>
<circle cx="487.96" cy="119.93" r="0.75" fill="#cc8a82"/>
<circle cx="487.96" cy="126.78" r="0.75" fill="#cc8a82"/>
<circle cx="487.96" cy="133.63" r="0.75" fill="#cc8a82"/>
<circle cx="487.96" cy="140.47" r="0.75" fill="#cc8a82"/>
<circle cx="487.96" cy="147.32" r="0.75" fill="#cc8a82"/>
<circle cx="487.96" cy="154.17" r="0.75" fill="#cc8a82"/>
<circle cx="487.96" cy="161.02" r="0.75" fill="#cc8a82"/>
<circle cx="487.96" cy="167.87" r="0.75" fill="#cc8a82"/>
<circle cx="487.96" cy="174.71" r="0.75" fill="#cc8a82"/>
<circle cx="487.96" cy="181.56" r="0.75" fill="#cc8a82"/>
<circle cx="487.96" cy="188.41" r="0.75" fill="#cc8a82"/>
<circle cx="487.96" cy="195.26" r="0.75" fill="#cc8a82"/>
<circle cx="487.96" cy="202.11" r="0.75" fill="#cc8a82"/>
<circle cx="487.96" cy="208.95" r="0.75" fill="#cc8a82"/>
<circle cx="487.96" cy="215.80" r="0.75" fill="#cc8a82"/>
<circle cx="487.96" cy="222.65" r="0.75" fill="#cc8a82"/>
<circle cx="487.96" cy="229.50" r="0.75" fill="#cc8a82"/>
<circle cx="487.96" cy="256.89" r="0.75" fill="#cc8a82"/>
<circle cx="487.96" cy="277.43" r="0.75" fill="#cc8a82"/>
<circle cx="487.96" cy="345.91" r="0.65" fill="#cc8a82"/>
<circle cx="487.96" cy="352.76" r="0.65" fill="#cc8a82"/>
<circle cx="505.48" cy="99.39" r="1.00" fill="#e0a8a8"/>
<circle cx="505.48" cy="154.17" r="1.00" fill="#e0a8a8"/>
<circle cx="505.48" cy="339.07" r="1.10" fill="#e0a8a8"/>
<circle cx="505.48" cy="373.31" r="1.10" fill="#e0a8a8"/>
<circle cx="505.48" cy="387.00" r="1.10" fill="#e0a8a8"/>
<circle cx="505.48" cy="393.85" r="1.10" fill="#e0a8a8"/>
<circle cx="505.48" cy="407.55" r="1.10" fill="#e0a8a8"/>
<circle cx="505.48" cy="476.03" r="1.10" fill="#e0a8a8"/>
<circle cx="523.00" cy="393.85" r="0.80" fill="#f0dede"/>
<circle cx="523.00" cy="476.03" r="0.80" fill="#f0dede"/>
<circle cx="593.08" cy="339.07" r="1.20" fill="#5a8088"/>
<circle cx="593.08" cy="393.85" r="1.20" fill="#5a8088"/>
<circle cx="593.08" cy="476.03" r="1.20" fill="#5a8088"/>
<circle cx="593.08" cy="489.72" r="1.20" fill="#5a8088"/>
<circle cx="593.08" cy="339.07" r="0.80" fill="#7aa0a8"/>
<circle cx="593.08" cy="393.85" r="0.80" fill="#7aa0a8"/>
<circle cx="593.08" cy="476.03" r="0.80" fill="#7aa0a8"/>
<circle cx="593.08" cy="489.72" r="0.80" fill="#7aa0a8"/>
<circle cx="610.60" cy="339.07" r="1.50" fill="#2a6a6a"/>
<circle cx="610.60" cy="393.85" r="1.50" fill="#2a6a6a"/>
<circle cx="610.60" cy="476.03" r="1.50" fill="#2a6a6a"/>
<circle cx="610.60" cy="339.07" r="1.10" fill="#3e8e90"/>
<circle cx="610.60" cy="393.85" r="1.10" fill="#3e8e90"/>
<circle cx="610.60" cy="476.03" r="1.10" fill="#3e8e90"/>
<circle cx="628.12" cy="393.85" r="1.50" fill="#1a3a50"/>
<circle cx="628.12" cy="476.03" r="1.50" fill="#1a3a50"/>
<circle cx="628.12" cy="503.42" r="1.50" fill="#1a3a50"/>
<circle cx="628.12" cy="530.81" r="1.60" fill="#1a3a50"/>
<circle cx="628.12" cy="393.85" r="1.10" fill="#2a5a78"/>
<circle cx="628.12" cy="476.03" r="1.10" fill="#2a5a78"/>
<circle cx="628.12" cy="503.42" r="1.10" fill="#2a5a78"/>
<circle cx="628.12" cy="530.81" r="1.20" fill="#2a5a78"/>
<circle cx="645.64" cy="352.76" r="1.60" fill="#101820"/>
<circle cx="645.64" cy="373.31" r="1.60" fill="#101820"/>
<circle cx="645.64" cy="352.76" r="1.20" fill="#1a2a40"/>
<circle cx="645.64" cy="373.31" r="1.20" fill="#1a2a40"/>
<circle cx="663.16" cy="99.39" r="1.50" fill="#101018"/>
<circle cx="663.16" cy="154.17" r="1.50" fill="#101018"/>
<circle cx="663.16" cy="256.89" r="1.50" fill="#101018"/>
<circle cx="663.16" cy="99.39" r="1.10" fill="#182030"/>
<circle cx="663.16" cy="154.17" r="1.10" fill="#182030"/>
<circle cx="663.16" cy="256.89" r="1.10" fill="#182030"/>
<rect x="695" y="46.9" width="25" height="76.2" fill="#ebebeb"/>
<circle cx="706.9" cy="53.1" r="3.1" fill="#636363"/>
<text x="723.8" y="56.9" font-size="14">10</text>
<circle cx="706.9" cy="67.75" r="5.6" fill="#636363"/>
<text x="723.8" y="74.4" font-size="14">20</text>
<circle cx="706.9" cy="86.9" r="8.0" fill="#636363"/>
<text x="723.8" y="93.1" font-size="14">30</text>
<circle cx="706.9" cy="110.4" r="9.9" fill="#636363"/>
<text x="723.8" y="116.3" font-size="14">40</text>
</svg></body></html>
